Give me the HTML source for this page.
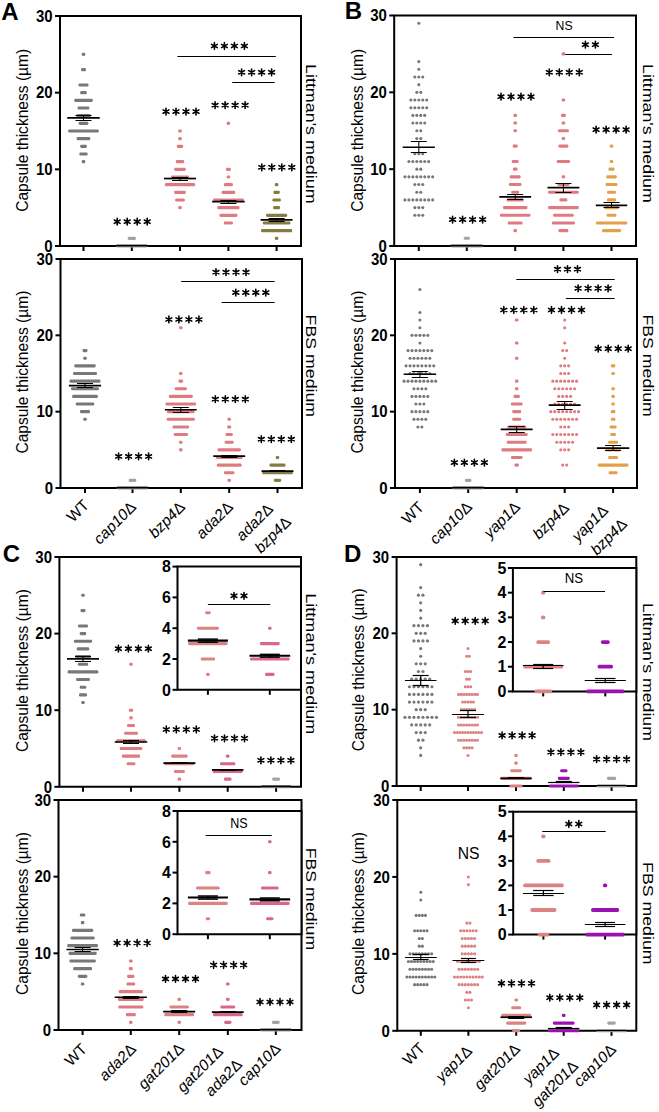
<!DOCTYPE html><html><head><meta charset="utf-8"><style>html,body{margin:0;padding:0;background:#fff;}svg{display:block;}</style></head><body>
<svg width="659" height="1112" viewBox="0 0 659 1112" font-family='"Liberation Sans", sans-serif'>
<rect width="659" height="1112" fill="#fff"/>
<text x="1.2" y="19.9" font-size="24" font-weight="bold" font-style="normal" text-anchor="start" fill="#000" >A</text>
<text x="344.7" y="18.8" font-size="24" font-weight="bold" font-style="normal" text-anchor="start" fill="#000" >B</text>
<text x="2.7" y="561.9" font-size="24" font-weight="bold" font-style="normal" text-anchor="start" fill="#000" >C</text>
<text x="344" y="562.2" font-size="24" font-weight="bold" font-style="normal" text-anchor="start" fill="#000" >D</text>
<path d="M60 246V16H301V246Z" fill="none" stroke="#000" stroke-width="2.0"/>
<line x1="55" y1="246" x2="60" y2="246" stroke="#000" stroke-width="2"/>
<text x="52.6" y="251.76" font-size="16" font-weight="bold" font-style="normal" text-anchor="end" fill="#000" textLength="8.32" lengthAdjust="spacingAndGlyphs">0</text>
<line x1="55" y1="169.33" x2="60" y2="169.33" stroke="#000" stroke-width="2"/>
<text x="52.6" y="175.09" font-size="16" font-weight="bold" font-style="normal" text-anchor="end" fill="#000" textLength="16.64" lengthAdjust="spacingAndGlyphs">10</text>
<line x1="55" y1="92.67" x2="60" y2="92.67" stroke="#000" stroke-width="2"/>
<text x="52.6" y="98.43" font-size="16" font-weight="bold" font-style="normal" text-anchor="end" fill="#000" textLength="16.64" lengthAdjust="spacingAndGlyphs">20</text>
<line x1="55" y1="16" x2="60" y2="16" stroke="#000" stroke-width="2"/>
<text x="52.6" y="21.76" font-size="16" font-weight="bold" font-style="normal" text-anchor="end" fill="#000" textLength="16.64" lengthAdjust="spacingAndGlyphs">30</text>
<line x1="83.5" y1="246" x2="83.5" y2="251" stroke="#000" stroke-width="2"/>
<line x1="131.8" y1="246" x2="131.8" y2="251" stroke="#000" stroke-width="2"/>
<line x1="180" y1="246" x2="180" y2="251" stroke="#000" stroke-width="2"/>
<line x1="228.4" y1="246" x2="228.4" y2="251" stroke="#000" stroke-width="2"/>
<line x1="276.6" y1="246" x2="276.6" y2="251" stroke="#000" stroke-width="2"/>
<text transform="translate(27.5,130.3) rotate(-90)" font-size="15.6" text-anchor="middle" textLength="163" lengthAdjust="spacingAndGlyphs">Capsule thickness (µm)</text>
<text transform="translate(305.5,133.8) rotate(90)" font-size="14.6" text-anchor="middle" textLength="139.6" lengthAdjust="spacingAndGlyphs">Littman's medium</text>
<rect x="81.7" y="52.78" width="3.6" height="3.1" rx="1.3" fill="#787878"/>
<rect x="81" y="68.12" width="5" height="3.1" rx="1.3" fill="#787878"/>
<rect x="78.5" y="83.45" width="10" height="3.1" rx="1.3" fill="#787878"/>
<rect x="80.2" y="91.12" width="6.6" height="3.1" rx="1.3" fill="#787878"/>
<rect x="74.2" y="98.78" width="18.6" height="3.1" rx="1.3" fill="#787878"/>
<rect x="77.6" y="106.45" width="11.8" height="3.1" rx="1.3" fill="#787878"/>
<rect x="76.25" y="114.12" width="14.5" height="3.1" rx="1.3" fill="#787878"/>
<rect x="78.65" y="121.78" width="9.7" height="3.1" rx="1.3" fill="#787878"/>
<rect x="68.2" y="129.45" width="30.6" height="3.1" rx="1.3" fill="#787878"/>
<rect x="76.6" y="137.12" width="13.8" height="3.1" rx="1.3" fill="#787878"/>
<rect x="80.1" y="144.78" width="6.8" height="3.1" rx="1.3" fill="#787878"/>
<rect x="79.35" y="152.45" width="8.3" height="3.1" rx="1.3" fill="#787878"/>
<rect x="81.7" y="160.12" width="3.6" height="3.1" rx="1.3" fill="#787878"/>
<line x1="67.25" y1="117.97" x2="99.75" y2="117.97" stroke="#000" stroke-width="1.7"/>
<line x1="75.5" y1="115.5" x2="91.5" y2="115.5" stroke="#000" stroke-width="1.05"/>
<line x1="75.5" y1="120.5" x2="91.5" y2="120.5" stroke="#000" stroke-width="1.05"/>
<line x1="83.5" y1="115.28" x2="83.5" y2="120.65" stroke="#000" stroke-width="1.05"/>
<rect x="127.65" y="236.78" width="8.3" height="3.1" rx="1.3" fill="#a3a3a3"/>
<rect x="116.3" y="244.45" width="31" height="3.1" rx="1.3" fill="#a3a3a3"/>
<line x1="116.3" y1="245.62" x2="147.3" y2="245.62" stroke="#000" stroke-width="1.7"/>
<rect x="178.2" y="129.45" width="3.6" height="3.1" rx="1.3" fill="#df7b80"/>
<rect x="178.2" y="137.12" width="3.6" height="3.1" rx="1.3" fill="#df7b80"/>
<rect x="176.8" y="144.78" width="6.4" height="3.1" rx="1.3" fill="#df7b80"/>
<rect x="175.75" y="160.12" width="8.5" height="3.1" rx="1.3" fill="#df7b80"/>
<rect x="174.15" y="167.78" width="11.7" height="3.1" rx="1.3" fill="#df7b80"/>
<rect x="171" y="175.45" width="18" height="3.1" rx="1.3" fill="#df7b80"/>
<rect x="164.8" y="183.12" width="30.4" height="3.1" rx="1.3" fill="#df7b80"/>
<rect x="174.15" y="190.78" width="11.7" height="3.1" rx="1.3" fill="#df7b80"/>
<rect x="175.1" y="198.45" width="9.8" height="3.1" rx="1.3" fill="#df7b80"/>
<rect x="178.2" y="206.12" width="3.6" height="3.1" rx="1.3" fill="#df7b80"/>
<line x1="164.05" y1="178.53" x2="195.95" y2="178.53" stroke="#000" stroke-width="1.7"/>
<line x1="172" y1="177.5" x2="188" y2="177.5" stroke="#000" stroke-width="1.05"/>
<line x1="172" y1="180.5" x2="188" y2="180.5" stroke="#000" stroke-width="1.05"/>
<line x1="180" y1="177" x2="180" y2="180.07" stroke="#000" stroke-width="1.05"/>
<rect x="226.6" y="121.78" width="3.6" height="3.1" rx="1.3" fill="#df7b80"/>
<rect x="225.95" y="167.78" width="4.9" height="3.1" rx="1.3" fill="#df7b80"/>
<rect x="226.6" y="175.45" width="3.6" height="3.1" rx="1.3" fill="#df7b80"/>
<rect x="223.85" y="183.12" width="9.1" height="3.1" rx="1.3" fill="#df7b80"/>
<rect x="221.5" y="190.78" width="13.8" height="3.1" rx="1.3" fill="#df7b80"/>
<rect x="213" y="198.45" width="30.8" height="3.1" rx="1.3" fill="#df7b80"/>
<rect x="217.25" y="206.12" width="22.3" height="3.1" rx="1.3" fill="#df7b80"/>
<rect x="219.4" y="213.78" width="18" height="3.1" rx="1.3" fill="#df7b80"/>
<rect x="223.85" y="221.45" width="9.1" height="3.1" rx="1.3" fill="#df7b80"/>
<line x1="212.15" y1="201.53" x2="244.65" y2="201.53" stroke="#000" stroke-width="1.7"/>
<line x1="220.4" y1="200.5" x2="236.4" y2="200.5" stroke="#000" stroke-width="1.05"/>
<line x1="220.4" y1="203.5" x2="236.4" y2="203.5" stroke="#000" stroke-width="1.05"/>
<line x1="228.4" y1="200" x2="228.4" y2="203.07" stroke="#000" stroke-width="1.05"/>
<rect x="274.8" y="183.12" width="3.6" height="3.1" rx="1.3" fill="#857d40"/>
<rect x="273.4" y="190.78" width="6.4" height="3.1" rx="1.3" fill="#857d40"/>
<rect x="272.35" y="198.45" width="8.5" height="3.1" rx="1.3" fill="#857d40"/>
<rect x="273.1" y="206.12" width="7" height="3.1" rx="1.3" fill="#857d40"/>
<rect x="266" y="213.78" width="21.2" height="3.1" rx="1.3" fill="#857d40"/>
<rect x="262.8" y="221.45" width="27.6" height="3.1" rx="1.3" fill="#857d40"/>
<rect x="261" y="229.12" width="31.2" height="3.1" rx="1.3" fill="#857d40"/>
<rect x="274.8" y="236.78" width="3.6" height="3.1" rx="1.3" fill="#857d40"/>
<line x1="260.65" y1="219.93" x2="292.55" y2="219.93" stroke="#000" stroke-width="1.7"/>
<line x1="268.6" y1="218.5" x2="284.6" y2="218.5" stroke="#000" stroke-width="1.05"/>
<line x1="268.6" y1="221.5" x2="284.6" y2="221.5" stroke="#000" stroke-width="1.05"/>
<line x1="276.6" y1="218.78" x2="276.6" y2="221.08" stroke="#000" stroke-width="1.05"/>
<path d="M117.2 218.35L117.2 225.05M114.3 220.02L120.1 223.38M114.3 223.38L120.1 220.02M127.2 218.35L127.2 225.05M124.3 220.02L130.1 223.38M124.3 223.38L130.1 220.02M137.2 218.35L137.2 225.05M134.3 220.02L140.1 223.38M134.3 223.38L140.1 220.02M147.2 218.35L147.2 225.05M144.3 220.02L150.1 223.38M144.3 223.38L150.1 220.02" stroke="#000" stroke-width="1.6" stroke-linecap="round" fill="none"/>
<path d="M166 108.25L166 114.95M163.1 109.92L168.9 113.27M163.1 113.27L168.9 109.92M176 108.25L176 114.95M173.1 109.92L178.9 113.27M173.1 113.27L178.9 109.92M186 108.25L186 114.95M183.1 109.92L188.9 113.27M183.1 113.27L188.9 109.92M196 108.25L196 114.95M193.1 109.92L198.9 113.27M193.1 113.27L198.9 109.92" stroke="#000" stroke-width="1.6" stroke-linecap="round" fill="none"/>
<path d="M215.1 101.85L215.1 108.55M212.2 103.53L218 106.88M212.2 106.88L218 103.53M225.1 101.85L225.1 108.55M222.2 103.53L228 106.88M222.2 106.88L228 103.53M235.1 101.85L235.1 108.55M232.2 103.53L238 106.88M232.2 106.88L238 103.53M245.1 101.85L245.1 108.55M242.2 103.53L248 106.88M242.2 106.88L248 103.53" stroke="#000" stroke-width="1.6" stroke-linecap="round" fill="none"/>
<path d="M261.8 163.95L261.8 170.65M258.9 165.62L264.7 168.98M258.9 168.98L264.7 165.62M271.8 163.95L271.8 170.65M268.9 165.62L274.7 168.98M268.9 168.98L274.7 165.62M281.8 163.95L281.8 170.65M278.9 165.62L284.7 168.98M278.9 168.98L284.7 165.62M291.8 163.95L291.8 170.65M288.9 165.62L294.7 168.98M288.9 168.98L294.7 165.62" stroke="#000" stroke-width="1.6" stroke-linecap="round" fill="none"/>
<path d="M214.4 42.65L214.4 49.35M211.5 44.33L217.3 47.67M211.5 47.67L217.3 44.33M224.4 42.65L224.4 49.35M221.5 44.33L227.3 47.67M221.5 47.67L227.3 44.33M234.4 42.65L234.4 49.35M231.5 44.33L237.3 47.67M231.5 47.67L237.3 44.33M244.4 42.65L244.4 49.35M241.5 44.33L247.3 47.67M241.5 47.67L247.3 44.33" stroke="#000" stroke-width="1.6" stroke-linecap="round" fill="none"/>
<line x1="177.4" y1="56.5" x2="275.8" y2="56.5" stroke="#000" stroke-width="1.2"/>
<path d="M241.6 68.95L241.6 75.65M238.7 70.62L244.5 73.97M238.7 73.97L244.5 70.62M251.6 68.95L251.6 75.65M248.7 70.62L254.5 73.97M248.7 73.97L254.5 70.62M261.6 68.95L261.6 75.65M258.7 70.62L264.5 73.97M258.7 73.97L264.5 70.62M271.6 68.95L271.6 75.65M268.7 70.62L274.5 73.97M268.7 73.97L274.5 70.62" stroke="#000" stroke-width="1.6" stroke-linecap="round" fill="none"/>
<line x1="232.2" y1="82.5" x2="274.7" y2="82.5" stroke="#000" stroke-width="1.2"/>
<path d="M60.5 488V259H302V488Z" fill="none" stroke="#000" stroke-width="2.0"/>
<line x1="55.5" y1="488" x2="60.5" y2="488" stroke="#000" stroke-width="2"/>
<text x="53.1" y="493.76" font-size="16" font-weight="bold" font-style="normal" text-anchor="end" fill="#000" textLength="8.32" lengthAdjust="spacingAndGlyphs">0</text>
<line x1="55.5" y1="411.67" x2="60.5" y2="411.67" stroke="#000" stroke-width="2"/>
<text x="53.1" y="417.43" font-size="16" font-weight="bold" font-style="normal" text-anchor="end" fill="#000" textLength="16.64" lengthAdjust="spacingAndGlyphs">10</text>
<line x1="55.5" y1="335.33" x2="60.5" y2="335.33" stroke="#000" stroke-width="2"/>
<text x="53.1" y="341.09" font-size="16" font-weight="bold" font-style="normal" text-anchor="end" fill="#000" textLength="16.64" lengthAdjust="spacingAndGlyphs">20</text>
<line x1="55.5" y1="259" x2="60.5" y2="259" stroke="#000" stroke-width="2"/>
<text x="53.1" y="264.76" font-size="16" font-weight="bold" font-style="normal" text-anchor="end" fill="#000" textLength="16.64" lengthAdjust="spacingAndGlyphs">30</text>
<line x1="85" y1="488" x2="85" y2="493" stroke="#000" stroke-width="2"/>
<line x1="132.5" y1="488" x2="132.5" y2="493" stroke="#000" stroke-width="2"/>
<line x1="180.8" y1="488" x2="180.8" y2="493" stroke="#000" stroke-width="2"/>
<line x1="229.2" y1="488" x2="229.2" y2="493" stroke="#000" stroke-width="2"/>
<line x1="277.5" y1="488" x2="277.5" y2="493" stroke="#000" stroke-width="2"/>
<text transform="translate(27.5,372.1) rotate(-90)" font-size="15.6" text-anchor="middle" textLength="163" lengthAdjust="spacingAndGlyphs">Capsule thickness (µm)</text>
<text transform="translate(305.5,365.85) rotate(90)" font-size="14.6" text-anchor="middle" textLength="102.5" lengthAdjust="spacingAndGlyphs">FBS medium</text>
<rect x="82.5" y="349.05" width="5" height="3.1" rx="1.3" fill="#787878"/>
<rect x="83.2" y="356.68" width="3.6" height="3.1" rx="1.3" fill="#787878"/>
<rect x="74.25" y="364.32" width="21.5" height="3.1" rx="1.3" fill="#787878"/>
<rect x="73" y="371.95" width="24" height="3.1" rx="1.3" fill="#787878"/>
<rect x="69.5" y="379.58" width="31" height="3.1" rx="1.3" fill="#787878"/>
<rect x="71" y="387.22" width="28" height="3.1" rx="1.3" fill="#787878"/>
<rect x="72.1" y="394.85" width="25.8" height="3.1" rx="1.3" fill="#787878"/>
<rect x="75.7" y="402.48" width="18.6" height="3.1" rx="1.3" fill="#787878"/>
<rect x="80" y="410.12" width="10" height="3.1" rx="1.3" fill="#787878"/>
<rect x="83.2" y="417.75" width="3.6" height="3.1" rx="1.3" fill="#787878"/>
<line x1="68.9" y1="385.71" x2="101.1" y2="385.71" stroke="#000" stroke-width="1.7"/>
<line x1="77" y1="383.5" x2="93" y2="383.5" stroke="#000" stroke-width="1.05"/>
<line x1="77" y1="387.5" x2="93" y2="387.5" stroke="#000" stroke-width="1.05"/>
<line x1="85" y1="383.81" x2="85" y2="387.62" stroke="#000" stroke-width="1.05"/>
<rect x="128.7" y="478.82" width="7.6" height="3.1" rx="1.3" fill="#a3a3a3"/>
<rect x="116.8" y="486.45" width="31.4" height="3.1" rx="1.3" fill="#a3a3a3"/>
<line x1="116.8" y1="487.62" x2="148.2" y2="487.62" stroke="#000" stroke-width="1.7"/>
<rect x="179" y="326.15" width="3.6" height="3.1" rx="1.3" fill="#df7b80"/>
<rect x="179" y="371.95" width="3.6" height="3.1" rx="1.3" fill="#df7b80"/>
<rect x="178.45" y="379.58" width="4.7" height="3.1" rx="1.3" fill="#df7b80"/>
<rect x="174.65" y="387.22" width="12.3" height="3.1" rx="1.3" fill="#df7b80"/>
<rect x="168.8" y="394.85" width="24" height="3.1" rx="1.3" fill="#df7b80"/>
<rect x="165.5" y="402.48" width="30.6" height="3.1" rx="1.3" fill="#df7b80"/>
<rect x="167" y="410.12" width="27.6" height="3.1" rx="1.3" fill="#df7b80"/>
<rect x="166.65" y="417.75" width="28.3" height="3.1" rx="1.3" fill="#df7b80"/>
<rect x="172.5" y="425.38" width="16.6" height="3.1" rx="1.3" fill="#df7b80"/>
<rect x="173.6" y="433.02" width="14.4" height="3.1" rx="1.3" fill="#df7b80"/>
<rect x="179" y="440.65" width="3.6" height="3.1" rx="1.3" fill="#df7b80"/>
<rect x="179" y="448.28" width="3.6" height="3.1" rx="1.3" fill="#df7b80"/>
<line x1="164.85" y1="409.76" x2="196.75" y2="409.76" stroke="#000" stroke-width="1.7"/>
<line x1="172.8" y1="407.5" x2="188.8" y2="407.5" stroke="#000" stroke-width="1.05"/>
<line x1="172.8" y1="412.5" x2="188.8" y2="412.5" stroke="#000" stroke-width="1.05"/>
<line x1="180.8" y1="407.32" x2="180.8" y2="412.2" stroke="#000" stroke-width="1.05"/>
<rect x="227.4" y="417.75" width="3.6" height="3.1" rx="1.3" fill="#df7b80"/>
<rect x="227.2" y="425.38" width="4" height="3.1" rx="1.3" fill="#df7b80"/>
<rect x="225.5" y="433.02" width="7.4" height="3.1" rx="1.3" fill="#df7b80"/>
<rect x="224.65" y="440.65" width="9.1" height="3.1" rx="1.3" fill="#df7b80"/>
<rect x="217.5" y="448.28" width="23.4" height="3.1" rx="1.3" fill="#df7b80"/>
<rect x="215.9" y="455.92" width="26.6" height="3.1" rx="1.3" fill="#df7b80"/>
<rect x="216.75" y="463.55" width="24.9" height="3.1" rx="1.3" fill="#df7b80"/>
<rect x="223.9" y="471.18" width="10.6" height="3.1" rx="1.3" fill="#df7b80"/>
<rect x="227.4" y="478.82" width="3.6" height="3.1" rx="1.3" fill="#df7b80"/>
<line x1="213.25" y1="456.17" x2="245.15" y2="456.17" stroke="#000" stroke-width="1.7"/>
<line x1="221.2" y1="455.5" x2="237.2" y2="455.5" stroke="#000" stroke-width="1.05"/>
<line x1="221.2" y1="457.5" x2="237.2" y2="457.5" stroke="#000" stroke-width="1.05"/>
<line x1="229.2" y1="455.02" x2="229.2" y2="457.31" stroke="#000" stroke-width="1.05"/>
<rect x="275.7" y="455.92" width="3.6" height="3.1" rx="1.3" fill="#857d40"/>
<rect x="269.5" y="463.55" width="16" height="3.1" rx="1.3" fill="#857d40"/>
<rect x="262.1" y="471.18" width="30.8" height="3.1" rx="1.3" fill="#857d40"/>
<rect x="273.8" y="478.82" width="7.4" height="3.1" rx="1.3" fill="#857d40"/>
<line x1="261.55" y1="471.21" x2="293.45" y2="471.21" stroke="#000" stroke-width="1.7"/>
<line x1="269.5" y1="470.5" x2="285.5" y2="470.5" stroke="#000" stroke-width="1.05"/>
<line x1="269.5" y1="471.5" x2="285.5" y2="471.5" stroke="#000" stroke-width="1.05"/>
<line x1="277.5" y1="470.44" x2="277.5" y2="471.97" stroke="#000" stroke-width="1.05"/>
<path d="M118.6 453.05L118.6 459.75M115.7 454.72L121.5 458.07M115.7 458.07L121.5 454.72M128.6 453.05L128.6 459.75M125.7 454.72L131.5 458.07M125.7 458.07L131.5 454.72M138.6 453.05L138.6 459.75M135.7 454.72L141.5 458.07M135.7 458.07L141.5 454.72M148.6 453.05L148.6 459.75M145.7 454.72L151.5 458.07M145.7 458.07L151.5 454.72" stroke="#000" stroke-width="1.6" stroke-linecap="round" fill="none"/>
<path d="M168.9 316.15L168.9 322.85M166 317.82L171.8 321.18M166 321.18L171.8 317.82M178.9 316.15L178.9 322.85M176 317.82L181.8 321.18M176 321.18L181.8 317.82M188.9 316.15L188.9 322.85M186 317.82L191.8 321.18M186 321.18L191.8 317.82M198.9 316.15L198.9 322.85M196 317.82L201.8 321.18M196 321.18L201.8 317.82" stroke="#000" stroke-width="1.6" stroke-linecap="round" fill="none"/>
<path d="M215.3 395.85L215.3 402.55M212.4 397.52L218.2 400.88M212.4 400.88L218.2 397.52M225.3 395.85L225.3 402.55M222.4 397.52L228.2 400.88M222.4 400.88L228.2 397.52M235.3 395.85L235.3 402.55M232.4 397.52L238.2 400.88M232.4 400.88L238.2 397.52M245.3 395.85L245.3 402.55M242.4 397.52L248.2 400.88M242.4 400.88L248.2 397.52" stroke="#000" stroke-width="1.6" stroke-linecap="round" fill="none"/>
<path d="M261.3 435.85L261.3 442.55M258.4 437.52L264.2 440.88M258.4 440.88L264.2 437.52M271.3 435.85L271.3 442.55M268.4 437.52L274.2 440.88M268.4 440.88L274.2 437.52M281.3 435.85L281.3 442.55M278.4 437.52L284.2 440.88M278.4 440.88L284.2 437.52M291.3 435.85L291.3 442.55M288.4 437.52L294.2 440.88M288.4 440.88L294.2 437.52" stroke="#000" stroke-width="1.6" stroke-linecap="round" fill="none"/>
<path d="M216 268.85L216 275.55M213.1 270.52L218.9 273.88M213.1 273.88L218.9 270.52M226 268.85L226 275.55M223.1 270.52L228.9 273.88M223.1 273.88L228.9 270.52M236 268.85L236 275.55M233.1 270.52L238.9 273.88M233.1 273.88L238.9 270.52M246 268.85L246 275.55M243.1 270.52L248.9 273.88M243.1 273.88L248.9 270.52" stroke="#000" stroke-width="1.6" stroke-linecap="round" fill="none"/>
<line x1="181.2" y1="281.5" x2="274.7" y2="281.5" stroke="#000" stroke-width="1.2"/>
<path d="M235.8 289.25L235.8 295.95M232.9 290.93L238.7 294.28M232.9 294.28L238.7 290.93M245.8 289.25L245.8 295.95M242.9 290.93L248.7 294.28M242.9 294.28L248.7 290.93M255.8 289.25L255.8 295.95M252.9 290.93L258.7 294.28M252.9 294.28L258.7 290.93M265.8 289.25L265.8 295.95M262.9 290.93L268.7 294.28M262.9 294.28L268.7 290.93" stroke="#000" stroke-width="1.6" stroke-linecap="round" fill="none"/>
<line x1="221.6" y1="302.5" x2="274.7" y2="302.5" stroke="#000" stroke-width="1.2"/>
<text transform="translate(90,506) rotate(-45)" font-size="15.5" text-anchor="end">WT</text>
<text transform="translate(137,508) rotate(-45)" font-size="15.5" text-anchor="end"><tspan font-style="italic">cap10</tspan>Δ</text>
<text transform="translate(186,508) rotate(-45)" font-size="15.5" text-anchor="end"><tspan font-style="italic">bzp4</tspan>Δ</text>
<text transform="translate(234,508) rotate(-45)" font-size="15.5" text-anchor="end"><tspan font-style="italic">ada2</tspan>Δ</text>
<text transform="translate(274,510) rotate(-45)" font-size="15.5" text-anchor="end"><tspan font-style="italic">ada2</tspan>Δ</text>
<text transform="translate(292,523) rotate(-45)" font-size="15.5" text-anchor="end"><tspan font-style="italic">bzp4</tspan>Δ</text>
<path d="M394.2 246V15.5H636V246Z" fill="none" stroke="#000" stroke-width="2.0"/>
<line x1="389.2" y1="246" x2="394.2" y2="246" stroke="#000" stroke-width="2"/>
<text x="386.8" y="251.76" font-size="16" font-weight="bold" font-style="normal" text-anchor="end" fill="#000" textLength="8.32" lengthAdjust="spacingAndGlyphs">0</text>
<line x1="389.2" y1="169.17" x2="394.2" y2="169.17" stroke="#000" stroke-width="2"/>
<text x="386.8" y="174.93" font-size="16" font-weight="bold" font-style="normal" text-anchor="end" fill="#000" textLength="16.64" lengthAdjust="spacingAndGlyphs">10</text>
<line x1="389.2" y1="92.33" x2="394.2" y2="92.33" stroke="#000" stroke-width="2"/>
<text x="386.8" y="98.09" font-size="16" font-weight="bold" font-style="normal" text-anchor="end" fill="#000" textLength="16.64" lengthAdjust="spacingAndGlyphs">20</text>
<line x1="389.2" y1="15.5" x2="394.2" y2="15.5" stroke="#000" stroke-width="2"/>
<text x="386.8" y="21.26" font-size="16" font-weight="bold" font-style="normal" text-anchor="end" fill="#000" textLength="16.64" lengthAdjust="spacingAndGlyphs">30</text>
<line x1="418.8" y1="246" x2="418.8" y2="251" stroke="#000" stroke-width="2"/>
<line x1="466.8" y1="246" x2="466.8" y2="251" stroke="#000" stroke-width="2"/>
<line x1="515.2" y1="246" x2="515.2" y2="251" stroke="#000" stroke-width="2"/>
<line x1="563.4" y1="246" x2="563.4" y2="251" stroke="#000" stroke-width="2"/>
<line x1="611.5" y1="246" x2="611.5" y2="251" stroke="#000" stroke-width="2"/>
<text transform="translate(362.5,130.3) rotate(-90)" font-size="15.6" text-anchor="middle" textLength="163" lengthAdjust="spacingAndGlyphs">Capsule thickness (µm)</text>
<text transform="translate(642.8,133.4) rotate(90)" font-size="14.6" text-anchor="middle" textLength="138.8" lengthAdjust="spacingAndGlyphs">Littman's medium</text>
<circle cx="418.8" cy="23.18" r="1.55" fill="#787878"/>
<circle cx="418.8" cy="61.6" r="1.55" fill="#787878"/>
<circle cx="418.8" cy="69.28" r="1.55" fill="#787878"/>
<circle cx="414.84" cy="76.97" r="1.55" fill="#787878"/>
<circle cx="418.8" cy="76.97" r="1.55" fill="#787878"/>
<circle cx="422.76" cy="76.97" r="1.55" fill="#787878"/>
<circle cx="418.8" cy="84.65" r="1.55" fill="#787878"/>
<circle cx="416.82" cy="92.33" r="1.55" fill="#787878"/>
<circle cx="420.78" cy="92.33" r="1.55" fill="#787878"/>
<circle cx="410.88" cy="100.02" r="1.55" fill="#787878"/>
<circle cx="414.84" cy="100.02" r="1.55" fill="#787878"/>
<circle cx="418.8" cy="100.02" r="1.55" fill="#787878"/>
<circle cx="422.76" cy="100.02" r="1.55" fill="#787878"/>
<circle cx="426.72" cy="100.02" r="1.55" fill="#787878"/>
<circle cx="410.88" cy="107.7" r="1.55" fill="#787878"/>
<circle cx="414.84" cy="107.7" r="1.55" fill="#787878"/>
<circle cx="418.8" cy="107.7" r="1.55" fill="#787878"/>
<circle cx="422.76" cy="107.7" r="1.55" fill="#787878"/>
<circle cx="426.72" cy="107.7" r="1.55" fill="#787878"/>
<circle cx="412.86" cy="115.38" r="1.55" fill="#787878"/>
<circle cx="416.82" cy="115.38" r="1.55" fill="#787878"/>
<circle cx="420.78" cy="115.38" r="1.55" fill="#787878"/>
<circle cx="424.74" cy="115.38" r="1.55" fill="#787878"/>
<circle cx="412.86" cy="123.07" r="1.55" fill="#787878"/>
<circle cx="416.82" cy="123.07" r="1.55" fill="#787878"/>
<circle cx="420.78" cy="123.07" r="1.55" fill="#787878"/>
<circle cx="424.74" cy="123.07" r="1.55" fill="#787878"/>
<circle cx="416.82" cy="130.75" r="1.55" fill="#787878"/>
<circle cx="420.78" cy="130.75" r="1.55" fill="#787878"/>
<circle cx="416.82" cy="138.43" r="1.55" fill="#787878"/>
<circle cx="420.78" cy="138.43" r="1.55" fill="#787878"/>
<circle cx="414.84" cy="153.8" r="1.55" fill="#787878"/>
<circle cx="418.8" cy="153.8" r="1.55" fill="#787878"/>
<circle cx="422.76" cy="153.8" r="1.55" fill="#787878"/>
<circle cx="408.9" cy="161.48" r="1.55" fill="#787878"/>
<circle cx="412.86" cy="161.48" r="1.55" fill="#787878"/>
<circle cx="416.82" cy="161.48" r="1.55" fill="#787878"/>
<circle cx="420.78" cy="161.48" r="1.55" fill="#787878"/>
<circle cx="424.74" cy="161.48" r="1.55" fill="#787878"/>
<circle cx="428.7" cy="161.48" r="1.55" fill="#787878"/>
<circle cx="416.82" cy="169.17" r="1.55" fill="#787878"/>
<circle cx="420.78" cy="169.17" r="1.55" fill="#787878"/>
<circle cx="404.94" cy="176.85" r="1.55" fill="#787878"/>
<circle cx="408.9" cy="176.85" r="1.55" fill="#787878"/>
<circle cx="412.86" cy="176.85" r="1.55" fill="#787878"/>
<circle cx="416.82" cy="176.85" r="1.55" fill="#787878"/>
<circle cx="420.78" cy="176.85" r="1.55" fill="#787878"/>
<circle cx="424.74" cy="176.85" r="1.55" fill="#787878"/>
<circle cx="428.7" cy="176.85" r="1.55" fill="#787878"/>
<circle cx="432.66" cy="176.85" r="1.55" fill="#787878"/>
<circle cx="414.84" cy="184.53" r="1.55" fill="#787878"/>
<circle cx="418.8" cy="184.53" r="1.55" fill="#787878"/>
<circle cx="422.76" cy="184.53" r="1.55" fill="#787878"/>
<circle cx="416.82" cy="192.22" r="1.55" fill="#787878"/>
<circle cx="420.78" cy="192.22" r="1.55" fill="#787878"/>
<circle cx="404.94" cy="199.9" r="1.55" fill="#787878"/>
<circle cx="408.9" cy="199.9" r="1.55" fill="#787878"/>
<circle cx="412.86" cy="199.9" r="1.55" fill="#787878"/>
<circle cx="416.82" cy="199.9" r="1.55" fill="#787878"/>
<circle cx="420.78" cy="199.9" r="1.55" fill="#787878"/>
<circle cx="424.74" cy="199.9" r="1.55" fill="#787878"/>
<circle cx="428.7" cy="199.9" r="1.55" fill="#787878"/>
<circle cx="432.66" cy="199.9" r="1.55" fill="#787878"/>
<circle cx="414.84" cy="207.58" r="1.55" fill="#787878"/>
<circle cx="418.8" cy="207.58" r="1.55" fill="#787878"/>
<circle cx="422.76" cy="207.58" r="1.55" fill="#787878"/>
<circle cx="414.84" cy="215.27" r="1.55" fill="#787878"/>
<circle cx="418.8" cy="215.27" r="1.55" fill="#787878"/>
<circle cx="422.76" cy="215.27" r="1.55" fill="#787878"/>
<line x1="402.7" y1="147.27" x2="434.9" y2="147.27" stroke="#000" stroke-width="1.7"/>
<line x1="410.8" y1="141.5" x2="426.8" y2="141.5" stroke="#000" stroke-width="1.05"/>
<line x1="410.8" y1="152.5" x2="426.8" y2="152.5" stroke="#000" stroke-width="1.05"/>
<line x1="418.8" y1="141.89" x2="418.8" y2="152.65" stroke="#000" stroke-width="1.05"/>
<rect x="463.7" y="236.77" width="6.2" height="3.1" rx="1.3" fill="#a3a3a3"/>
<rect x="450.8" y="244.45" width="32" height="3.1" rx="1.3" fill="#a3a3a3"/>
<line x1="450.8" y1="245.62" x2="482.8" y2="245.62" stroke="#000" stroke-width="1.7"/>
<rect x="513.4" y="113.83" width="3.6" height="3.1" rx="1.3" fill="#df7b80"/>
<rect x="513.4" y="121.52" width="3.6" height="3.1" rx="1.3" fill="#df7b80"/>
<rect x="513.4" y="129.2" width="3.6" height="3.1" rx="1.3" fill="#df7b80"/>
<rect x="512.7" y="144.57" width="5" height="3.1" rx="1.3" fill="#df7b80"/>
<rect x="511.7" y="159.93" width="7" height="3.1" rx="1.3" fill="#df7b80"/>
<rect x="512.85" y="167.62" width="4.7" height="3.1" rx="1.3" fill="#df7b80"/>
<rect x="509.7" y="175.3" width="11" height="3.1" rx="1.3" fill="#df7b80"/>
<rect x="508.85" y="182.98" width="12.7" height="3.1" rx="1.3" fill="#df7b80"/>
<rect x="511.2" y="190.67" width="8" height="3.1" rx="1.3" fill="#df7b80"/>
<rect x="506.7" y="198.35" width="17" height="3.1" rx="1.3" fill="#df7b80"/>
<rect x="502.9" y="206.03" width="24.6" height="3.1" rx="1.3" fill="#df7b80"/>
<rect x="499.9" y="213.72" width="30.6" height="3.1" rx="1.3" fill="#df7b80"/>
<rect x="507.75" y="221.4" width="14.9" height="3.1" rx="1.3" fill="#df7b80"/>
<rect x="513.4" y="229.08" width="3.6" height="3.1" rx="1.3" fill="#df7b80"/>
<line x1="499.25" y1="196.83" x2="531.15" y2="196.83" stroke="#000" stroke-width="1.7"/>
<line x1="507.2" y1="194.5" x2="523.2" y2="194.5" stroke="#000" stroke-width="1.05"/>
<line x1="507.2" y1="199.5" x2="523.2" y2="199.5" stroke="#000" stroke-width="1.05"/>
<line x1="515.2" y1="194.14" x2="515.2" y2="199.52" stroke="#000" stroke-width="1.05"/>
<rect x="561.6" y="52.37" width="3.6" height="3.1" rx="1.3" fill="#df7b80"/>
<rect x="561.6" y="98.47" width="3.6" height="3.1" rx="1.3" fill="#df7b80"/>
<rect x="560.9" y="113.83" width="5" height="3.1" rx="1.3" fill="#df7b80"/>
<rect x="561.6" y="121.52" width="3.6" height="3.1" rx="1.3" fill="#df7b80"/>
<rect x="557.9" y="129.2" width="11" height="3.1" rx="1.3" fill="#df7b80"/>
<rect x="561.6" y="136.88" width="3.6" height="3.1" rx="1.3" fill="#df7b80"/>
<rect x="558.4" y="144.57" width="10" height="3.1" rx="1.3" fill="#df7b80"/>
<rect x="556.7" y="159.93" width="13.4" height="3.1" rx="1.3" fill="#df7b80"/>
<rect x="561.6" y="175.3" width="3.6" height="3.1" rx="1.3" fill="#df7b80"/>
<rect x="557.4" y="182.98" width="12" height="3.1" rx="1.3" fill="#df7b80"/>
<rect x="548" y="190.67" width="30.8" height="3.1" rx="1.3" fill="#df7b80"/>
<rect x="559.4" y="198.35" width="8" height="3.1" rx="1.3" fill="#df7b80"/>
<rect x="548" y="206.03" width="30.8" height="3.1" rx="1.3" fill="#df7b80"/>
<rect x="553.1" y="213.72" width="20.6" height="3.1" rx="1.3" fill="#df7b80"/>
<rect x="551.9" y="221.4" width="23" height="3.1" rx="1.3" fill="#df7b80"/>
<rect x="558.4" y="229.08" width="10" height="3.1" rx="1.3" fill="#df7b80"/>
<line x1="547.45" y1="187.61" x2="579.35" y2="187.61" stroke="#000" stroke-width="1.7"/>
<line x1="555.4" y1="183.5" x2="571.4" y2="183.5" stroke="#000" stroke-width="1.05"/>
<line x1="555.4" y1="192.5" x2="571.4" y2="192.5" stroke="#000" stroke-width="1.05"/>
<line x1="563.4" y1="183.76" x2="563.4" y2="192.22" stroke="#000" stroke-width="1.05"/>
<rect x="609.7" y="144.57" width="3.6" height="3.1" rx="1.3" fill="#e3a048"/>
<rect x="609.7" y="159.93" width="3.6" height="3.1" rx="1.3" fill="#e3a048"/>
<rect x="608.5" y="167.62" width="6" height="3.1" rx="1.3" fill="#e3a048"/>
<rect x="606.2" y="175.3" width="10.6" height="3.1" rx="1.3" fill="#e3a048"/>
<rect x="605.5" y="182.98" width="12" height="3.1" rx="1.3" fill="#e3a048"/>
<rect x="607" y="190.67" width="9" height="3.1" rx="1.3" fill="#e3a048"/>
<rect x="607" y="198.35" width="9" height="3.1" rx="1.3" fill="#e3a048"/>
<rect x="604" y="206.03" width="15" height="3.1" rx="1.3" fill="#e3a048"/>
<rect x="606.6" y="213.72" width="9.8" height="3.1" rx="1.3" fill="#e3a048"/>
<rect x="595.8" y="221.4" width="31.4" height="3.1" rx="1.3" fill="#e3a048"/>
<rect x="602" y="229.08" width="19" height="3.1" rx="1.3" fill="#e3a048"/>
<line x1="595.8" y1="205.28" x2="627.2" y2="205.28" stroke="#000" stroke-width="1.7"/>
<line x1="603.5" y1="202.5" x2="619.5" y2="202.5" stroke="#000" stroke-width="1.05"/>
<line x1="603.5" y1="207.5" x2="619.5" y2="207.5" stroke="#000" stroke-width="1.05"/>
<line x1="611.5" y1="202.97" x2="611.5" y2="207.58" stroke="#000" stroke-width="1.05"/>
<path d="M452.6 216.25L452.6 222.95M449.7 217.92L455.5 221.28M449.7 221.28L455.5 217.92M462.6 216.25L462.6 222.95M459.7 217.92L465.5 221.28M459.7 221.28L465.5 217.92M472.6 216.25L472.6 222.95M469.7 217.92L475.5 221.28M469.7 221.28L475.5 217.92M482.6 216.25L482.6 222.95M479.7 217.92L485.5 221.28M479.7 221.28L485.5 217.92" stroke="#000" stroke-width="1.6" stroke-linecap="round" fill="none"/>
<path d="M501 93.35L501 100.05M498.1 95.03L503.9 98.38M498.1 98.38L503.9 95.03M511 93.35L511 100.05M508.1 95.03L513.9 98.38M508.1 98.38L513.9 95.03M521 93.35L521 100.05M518.1 95.03L523.9 98.38M518.1 98.38L523.9 95.03M531 93.35L531 100.05M528.1 95.03L533.9 98.38M528.1 98.38L533.9 95.03" stroke="#000" stroke-width="1.6" stroke-linecap="round" fill="none"/>
<path d="M549.3 68.95L549.3 75.65M546.4 70.62L552.2 73.97M546.4 73.97L552.2 70.62M559.3 68.95L559.3 75.65M556.4 70.62L562.2 73.97M556.4 73.97L562.2 70.62M569.3 68.95L569.3 75.65M566.4 70.62L572.2 73.97M566.4 73.97L572.2 70.62M579.3 68.95L579.3 75.65M576.4 70.62L582.2 73.97M576.4 73.97L582.2 70.62" stroke="#000" stroke-width="1.6" stroke-linecap="round" fill="none"/>
<path d="M596.1 126.35L596.1 133.05M593.2 128.02L599 131.38M593.2 131.38L599 128.02M606.1 126.35L606.1 133.05M603.2 128.02L609 131.38M603.2 131.38L609 128.02M616.1 126.35L616.1 133.05M613.2 128.02L619 131.38M613.2 131.38L619 128.02M626.1 126.35L626.1 133.05M623.2 128.02L629 131.38M623.2 131.38L629 128.02" stroke="#000" stroke-width="1.6" stroke-linecap="round" fill="none"/>
<text x="564.1" y="29.7" font-size="13.2" font-weight="normal" font-style="normal" text-anchor="middle" fill="#000" textLength="17" lengthAdjust="spacingAndGlyphs">NS</text>
<line x1="513.5" y1="37.5" x2="614" y2="37.5" stroke="#000" stroke-width="1.2"/>
<path d="M585.4 41.35L585.4 48.05M582.5 43.03L588.3 46.38M582.5 46.38L588.3 43.03M595.4 41.35L595.4 48.05M592.5 43.03L598.3 46.38M592.5 46.38L598.3 43.03" stroke="#000" stroke-width="1.6" stroke-linecap="round" fill="none"/>
<line x1="565.2" y1="54.5" x2="611.9" y2="54.5" stroke="#000" stroke-width="1.2"/>
<path d="M395 488V259H637V488Z" fill="none" stroke="#000" stroke-width="2.0"/>
<line x1="390" y1="488" x2="395" y2="488" stroke="#000" stroke-width="2"/>
<text x="387.6" y="493.76" font-size="16" font-weight="bold" font-style="normal" text-anchor="end" fill="#000" textLength="8.32" lengthAdjust="spacingAndGlyphs">0</text>
<line x1="390" y1="411.67" x2="395" y2="411.67" stroke="#000" stroke-width="2"/>
<text x="387.6" y="417.43" font-size="16" font-weight="bold" font-style="normal" text-anchor="end" fill="#000" textLength="16.64" lengthAdjust="spacingAndGlyphs">10</text>
<line x1="390" y1="335.33" x2="395" y2="335.33" stroke="#000" stroke-width="2"/>
<text x="387.6" y="341.09" font-size="16" font-weight="bold" font-style="normal" text-anchor="end" fill="#000" textLength="16.64" lengthAdjust="spacingAndGlyphs">20</text>
<line x1="390" y1="259" x2="395" y2="259" stroke="#000" stroke-width="2"/>
<text x="387.6" y="264.76" font-size="16" font-weight="bold" font-style="normal" text-anchor="end" fill="#000" textLength="16.64" lengthAdjust="spacingAndGlyphs">30</text>
<line x1="419.9" y1="488" x2="419.9" y2="493" stroke="#000" stroke-width="2"/>
<line x1="468.2" y1="488" x2="468.2" y2="493" stroke="#000" stroke-width="2"/>
<line x1="516.7" y1="488" x2="516.7" y2="493" stroke="#000" stroke-width="2"/>
<line x1="564.7" y1="488" x2="564.7" y2="493" stroke="#000" stroke-width="2"/>
<line x1="613.1" y1="488" x2="613.1" y2="493" stroke="#000" stroke-width="2"/>
<text transform="translate(362.5,372.1) rotate(-90)" font-size="15.6" text-anchor="middle" textLength="163" lengthAdjust="spacingAndGlyphs">Capsule thickness (µm)</text>
<text transform="translate(642.8,365.65) rotate(90)" font-size="14.6" text-anchor="middle" textLength="102.5" lengthAdjust="spacingAndGlyphs">FBS medium</text>
<circle cx="419.9" cy="289.53" r="1.55" fill="#787878"/>
<circle cx="419.9" cy="312.43" r="1.55" fill="#787878"/>
<circle cx="419.9" cy="320.07" r="1.55" fill="#787878"/>
<circle cx="419.9" cy="327.7" r="1.55" fill="#787878"/>
<circle cx="411.98" cy="335.33" r="1.55" fill="#787878"/>
<circle cx="415.94" cy="335.33" r="1.55" fill="#787878"/>
<circle cx="419.9" cy="335.33" r="1.55" fill="#787878"/>
<circle cx="423.86" cy="335.33" r="1.55" fill="#787878"/>
<circle cx="427.82" cy="335.33" r="1.55" fill="#787878"/>
<circle cx="419.9" cy="342.97" r="1.55" fill="#787878"/>
<circle cx="408.02" cy="350.6" r="1.55" fill="#787878"/>
<circle cx="411.98" cy="350.6" r="1.55" fill="#787878"/>
<circle cx="415.94" cy="350.6" r="1.55" fill="#787878"/>
<circle cx="419.9" cy="350.6" r="1.55" fill="#787878"/>
<circle cx="423.86" cy="350.6" r="1.55" fill="#787878"/>
<circle cx="427.82" cy="350.6" r="1.55" fill="#787878"/>
<circle cx="431.78" cy="350.6" r="1.55" fill="#787878"/>
<circle cx="410" cy="358.23" r="1.55" fill="#787878"/>
<circle cx="413.96" cy="358.23" r="1.55" fill="#787878"/>
<circle cx="417.92" cy="358.23" r="1.55" fill="#787878"/>
<circle cx="421.88" cy="358.23" r="1.55" fill="#787878"/>
<circle cx="425.84" cy="358.23" r="1.55" fill="#787878"/>
<circle cx="429.8" cy="358.23" r="1.55" fill="#787878"/>
<circle cx="406.04" cy="365.87" r="1.55" fill="#787878"/>
<circle cx="410" cy="365.87" r="1.55" fill="#787878"/>
<circle cx="413.96" cy="365.87" r="1.55" fill="#787878"/>
<circle cx="417.92" cy="365.87" r="1.55" fill="#787878"/>
<circle cx="421.88" cy="365.87" r="1.55" fill="#787878"/>
<circle cx="425.84" cy="365.87" r="1.55" fill="#787878"/>
<circle cx="429.8" cy="365.87" r="1.55" fill="#787878"/>
<circle cx="433.76" cy="365.87" r="1.55" fill="#787878"/>
<circle cx="410" cy="373.5" r="1.55" fill="#787878"/>
<circle cx="413.96" cy="373.5" r="1.55" fill="#787878"/>
<circle cx="417.92" cy="373.5" r="1.55" fill="#787878"/>
<circle cx="421.88" cy="373.5" r="1.55" fill="#787878"/>
<circle cx="425.84" cy="373.5" r="1.55" fill="#787878"/>
<circle cx="429.8" cy="373.5" r="1.55" fill="#787878"/>
<circle cx="404.06" cy="381.13" r="1.55" fill="#787878"/>
<circle cx="408.02" cy="381.13" r="1.55" fill="#787878"/>
<circle cx="411.98" cy="381.13" r="1.55" fill="#787878"/>
<circle cx="415.94" cy="381.13" r="1.55" fill="#787878"/>
<circle cx="419.9" cy="381.13" r="1.55" fill="#787878"/>
<circle cx="423.86" cy="381.13" r="1.55" fill="#787878"/>
<circle cx="427.82" cy="381.13" r="1.55" fill="#787878"/>
<circle cx="431.78" cy="381.13" r="1.55" fill="#787878"/>
<circle cx="435.74" cy="381.13" r="1.55" fill="#787878"/>
<circle cx="413.96" cy="388.77" r="1.55" fill="#787878"/>
<circle cx="417.92" cy="388.77" r="1.55" fill="#787878"/>
<circle cx="421.88" cy="388.77" r="1.55" fill="#787878"/>
<circle cx="425.84" cy="388.77" r="1.55" fill="#787878"/>
<circle cx="411.98" cy="396.4" r="1.55" fill="#787878"/>
<circle cx="415.94" cy="396.4" r="1.55" fill="#787878"/>
<circle cx="419.9" cy="396.4" r="1.55" fill="#787878"/>
<circle cx="423.86" cy="396.4" r="1.55" fill="#787878"/>
<circle cx="427.82" cy="396.4" r="1.55" fill="#787878"/>
<circle cx="415.94" cy="404.03" r="1.55" fill="#787878"/>
<circle cx="419.9" cy="404.03" r="1.55" fill="#787878"/>
<circle cx="423.86" cy="404.03" r="1.55" fill="#787878"/>
<circle cx="411.98" cy="411.67" r="1.55" fill="#787878"/>
<circle cx="415.94" cy="411.67" r="1.55" fill="#787878"/>
<circle cx="419.9" cy="411.67" r="1.55" fill="#787878"/>
<circle cx="423.86" cy="411.67" r="1.55" fill="#787878"/>
<circle cx="427.82" cy="411.67" r="1.55" fill="#787878"/>
<circle cx="413.96" cy="419.3" r="1.55" fill="#787878"/>
<circle cx="417.92" cy="419.3" r="1.55" fill="#787878"/>
<circle cx="421.88" cy="419.3" r="1.55" fill="#787878"/>
<circle cx="425.84" cy="419.3" r="1.55" fill="#787878"/>
<circle cx="417.92" cy="426.93" r="1.55" fill="#787878"/>
<circle cx="421.88" cy="426.93" r="1.55" fill="#787878"/>
<line x1="403.65" y1="374.26" x2="436.15" y2="374.26" stroke="#000" stroke-width="1.7"/>
<line x1="411.9" y1="371.5" x2="427.9" y2="371.5" stroke="#000" stroke-width="1.05"/>
<line x1="411.9" y1="377.5" x2="427.9" y2="377.5" stroke="#000" stroke-width="1.05"/>
<line x1="419.9" y1="371.21" x2="419.9" y2="377.7" stroke="#000" stroke-width="1.05"/>
<rect x="464.95" y="478.82" width="6.5" height="3.1" rx="1.3" fill="#a3a3a3"/>
<rect x="452.3" y="486.45" width="31.8" height="3.1" rx="1.3" fill="#a3a3a3"/>
<line x1="452.3" y1="487.62" x2="484.1" y2="487.62" stroke="#000" stroke-width="1.7"/>
<rect x="514.9" y="318.52" width="3.6" height="3.1" rx="1.3" fill="#df7b80"/>
<rect x="514.9" y="341.42" width="3.6" height="3.1" rx="1.3" fill="#df7b80"/>
<rect x="514.9" y="356.68" width="3.6" height="3.1" rx="1.3" fill="#df7b80"/>
<rect x="514.9" y="379.58" width="3.6" height="3.1" rx="1.3" fill="#df7b80"/>
<rect x="514.9" y="387.22" width="3.6" height="3.1" rx="1.3" fill="#df7b80"/>
<rect x="513.5" y="394.85" width="6.4" height="3.1" rx="1.3" fill="#df7b80"/>
<rect x="510.85" y="402.48" width="11.7" height="3.1" rx="1.3" fill="#df7b80"/>
<rect x="512.2" y="410.12" width="9" height="3.1" rx="1.3" fill="#df7b80"/>
<rect x="512.2" y="417.75" width="9" height="3.1" rx="1.3" fill="#df7b80"/>
<rect x="507.2" y="425.38" width="19" height="3.1" rx="1.3" fill="#df7b80"/>
<rect x="505.7" y="433.02" width="22" height="3.1" rx="1.3" fill="#df7b80"/>
<rect x="506.7" y="440.65" width="20" height="3.1" rx="1.3" fill="#df7b80"/>
<rect x="501.3" y="448.28" width="30.8" height="3.1" rx="1.3" fill="#df7b80"/>
<rect x="510.85" y="455.92" width="11.7" height="3.1" rx="1.3" fill="#df7b80"/>
<rect x="514.45" y="463.55" width="4.5" height="3.1" rx="1.3" fill="#df7b80"/>
<line x1="500.75" y1="429.38" x2="532.65" y2="429.38" stroke="#000" stroke-width="1.7"/>
<line x1="508.7" y1="426.5" x2="524.7" y2="426.5" stroke="#000" stroke-width="1.05"/>
<line x1="508.7" y1="432.5" x2="524.7" y2="432.5" stroke="#000" stroke-width="1.05"/>
<line x1="516.7" y1="426.32" x2="516.7" y2="432.43" stroke="#000" stroke-width="1.05"/>
<circle cx="564.7" cy="320.07" r="1.55" fill="#df7b80"/>
<circle cx="564.7" cy="327.7" r="1.55" fill="#df7b80"/>
<circle cx="564.7" cy="342.97" r="1.55" fill="#df7b80"/>
<circle cx="562.72" cy="350.6" r="1.55" fill="#df7b80"/>
<circle cx="566.68" cy="350.6" r="1.55" fill="#df7b80"/>
<circle cx="564.7" cy="358.23" r="1.55" fill="#df7b80"/>
<circle cx="560.74" cy="365.87" r="1.55" fill="#df7b80"/>
<circle cx="564.7" cy="365.87" r="1.55" fill="#df7b80"/>
<circle cx="568.66" cy="365.87" r="1.55" fill="#df7b80"/>
<circle cx="560.74" cy="373.5" r="1.55" fill="#df7b80"/>
<circle cx="564.7" cy="373.5" r="1.55" fill="#df7b80"/>
<circle cx="568.66" cy="373.5" r="1.55" fill="#df7b80"/>
<circle cx="552.82" cy="381.13" r="1.55" fill="#df7b80"/>
<circle cx="556.78" cy="381.13" r="1.55" fill="#df7b80"/>
<circle cx="560.74" cy="381.13" r="1.55" fill="#df7b80"/>
<circle cx="564.7" cy="381.13" r="1.55" fill="#df7b80"/>
<circle cx="568.66" cy="381.13" r="1.55" fill="#df7b80"/>
<circle cx="572.62" cy="381.13" r="1.55" fill="#df7b80"/>
<circle cx="576.58" cy="381.13" r="1.55" fill="#df7b80"/>
<circle cx="554.8" cy="388.77" r="1.55" fill="#df7b80"/>
<circle cx="558.76" cy="388.77" r="1.55" fill="#df7b80"/>
<circle cx="562.72" cy="388.77" r="1.55" fill="#df7b80"/>
<circle cx="566.68" cy="388.77" r="1.55" fill="#df7b80"/>
<circle cx="570.64" cy="388.77" r="1.55" fill="#df7b80"/>
<circle cx="574.6" cy="388.77" r="1.55" fill="#df7b80"/>
<circle cx="558.76" cy="396.4" r="1.55" fill="#df7b80"/>
<circle cx="562.72" cy="396.4" r="1.55" fill="#df7b80"/>
<circle cx="566.68" cy="396.4" r="1.55" fill="#df7b80"/>
<circle cx="570.64" cy="396.4" r="1.55" fill="#df7b80"/>
<circle cx="554.8" cy="404.03" r="1.55" fill="#df7b80"/>
<circle cx="558.76" cy="404.03" r="1.55" fill="#df7b80"/>
<circle cx="562.72" cy="404.03" r="1.55" fill="#df7b80"/>
<circle cx="566.68" cy="404.03" r="1.55" fill="#df7b80"/>
<circle cx="570.64" cy="404.03" r="1.55" fill="#df7b80"/>
<circle cx="574.6" cy="404.03" r="1.55" fill="#df7b80"/>
<circle cx="550.84" cy="411.67" r="1.55" fill="#df7b80"/>
<circle cx="554.8" cy="411.67" r="1.55" fill="#df7b80"/>
<circle cx="558.76" cy="411.67" r="1.55" fill="#df7b80"/>
<circle cx="562.72" cy="411.67" r="1.55" fill="#df7b80"/>
<circle cx="566.68" cy="411.67" r="1.55" fill="#df7b80"/>
<circle cx="570.64" cy="411.67" r="1.55" fill="#df7b80"/>
<circle cx="574.6" cy="411.67" r="1.55" fill="#df7b80"/>
<circle cx="578.56" cy="411.67" r="1.55" fill="#df7b80"/>
<circle cx="552.82" cy="419.3" r="1.55" fill="#df7b80"/>
<circle cx="556.78" cy="419.3" r="1.55" fill="#df7b80"/>
<circle cx="560.74" cy="419.3" r="1.55" fill="#df7b80"/>
<circle cx="564.7" cy="419.3" r="1.55" fill="#df7b80"/>
<circle cx="568.66" cy="419.3" r="1.55" fill="#df7b80"/>
<circle cx="572.62" cy="419.3" r="1.55" fill="#df7b80"/>
<circle cx="576.58" cy="419.3" r="1.55" fill="#df7b80"/>
<circle cx="560.74" cy="426.93" r="1.55" fill="#df7b80"/>
<circle cx="564.7" cy="426.93" r="1.55" fill="#df7b80"/>
<circle cx="568.66" cy="426.93" r="1.55" fill="#df7b80"/>
<circle cx="552.82" cy="434.57" r="1.55" fill="#df7b80"/>
<circle cx="556.78" cy="434.57" r="1.55" fill="#df7b80"/>
<circle cx="560.74" cy="434.57" r="1.55" fill="#df7b80"/>
<circle cx="564.7" cy="434.57" r="1.55" fill="#df7b80"/>
<circle cx="568.66" cy="434.57" r="1.55" fill="#df7b80"/>
<circle cx="572.62" cy="434.57" r="1.55" fill="#df7b80"/>
<circle cx="576.58" cy="434.57" r="1.55" fill="#df7b80"/>
<circle cx="556.78" cy="442.2" r="1.55" fill="#df7b80"/>
<circle cx="560.74" cy="442.2" r="1.55" fill="#df7b80"/>
<circle cx="564.7" cy="442.2" r="1.55" fill="#df7b80"/>
<circle cx="568.66" cy="442.2" r="1.55" fill="#df7b80"/>
<circle cx="572.62" cy="442.2" r="1.55" fill="#df7b80"/>
<circle cx="560.74" cy="449.83" r="1.55" fill="#df7b80"/>
<circle cx="564.7" cy="449.83" r="1.55" fill="#df7b80"/>
<circle cx="568.66" cy="449.83" r="1.55" fill="#df7b80"/>
<circle cx="562.72" cy="465.1" r="1.55" fill="#df7b80"/>
<circle cx="566.68" cy="465.1" r="1.55" fill="#df7b80"/>
<line x1="548.75" y1="405.18" x2="580.65" y2="405.18" stroke="#000" stroke-width="1.7"/>
<line x1="556.7" y1="401.5" x2="572.7" y2="401.5" stroke="#000" stroke-width="1.05"/>
<line x1="556.7" y1="409.5" x2="572.7" y2="409.5" stroke="#000" stroke-width="1.05"/>
<line x1="564.7" y1="401.74" x2="564.7" y2="409.38" stroke="#000" stroke-width="1.05"/>
<rect x="610.75" y="364.32" width="4.7" height="3.1" rx="1.3" fill="#e3a048"/>
<rect x="611.3" y="371.95" width="3.6" height="3.1" rx="1.3" fill="#e3a048"/>
<rect x="611.3" y="387.22" width="3.6" height="3.1" rx="1.3" fill="#e3a048"/>
<rect x="611.3" y="394.85" width="3.6" height="3.1" rx="1.3" fill="#e3a048"/>
<rect x="611.3" y="402.48" width="3.6" height="3.1" rx="1.3" fill="#e3a048"/>
<rect x="610.75" y="410.12" width="4.7" height="3.1" rx="1.3" fill="#e3a048"/>
<rect x="610.75" y="417.75" width="4.7" height="3.1" rx="1.3" fill="#e3a048"/>
<rect x="609.6" y="425.38" width="7" height="3.1" rx="1.3" fill="#e3a048"/>
<rect x="610.25" y="433.02" width="5.7" height="3.1" rx="1.3" fill="#e3a048"/>
<rect x="608.1" y="440.65" width="10" height="3.1" rx="1.3" fill="#e3a048"/>
<rect x="605.35" y="448.28" width="15.5" height="3.1" rx="1.3" fill="#e3a048"/>
<rect x="608.1" y="455.92" width="10" height="3.1" rx="1.3" fill="#e3a048"/>
<rect x="597.7" y="463.55" width="30.8" height="3.1" rx="1.3" fill="#e3a048"/>
<rect x="608.6" y="471.18" width="9" height="3.1" rx="1.3" fill="#e3a048"/>
<line x1="596.95" y1="448.08" x2="629.25" y2="448.08" stroke="#000" stroke-width="1.7"/>
<line x1="605.1" y1="445.5" x2="621.1" y2="445.5" stroke="#000" stroke-width="1.05"/>
<line x1="605.1" y1="450.5" x2="621.1" y2="450.5" stroke="#000" stroke-width="1.05"/>
<line x1="613.1" y1="445.79" x2="613.1" y2="450.37" stroke="#000" stroke-width="1.05"/>
<path d="M454.4 459.25L454.4 465.95M451.5 460.93L457.3 464.28M451.5 464.28L457.3 460.93M464.4 459.25L464.4 465.95M461.5 460.93L467.3 464.28M461.5 464.28L467.3 460.93M474.4 459.25L474.4 465.95M471.5 460.93L477.3 464.28M471.5 464.28L477.3 460.93M484.4 459.25L484.4 465.95M481.5 460.93L487.3 464.28M481.5 464.28L487.3 460.93" stroke="#000" stroke-width="1.6" stroke-linecap="round" fill="none"/>
<path d="M503.8 306.65L503.8 313.35M500.9 308.32L506.7 311.68M500.9 311.68L506.7 308.32M513.8 306.65L513.8 313.35M510.9 308.32L516.7 311.68M510.9 311.68L516.7 308.32M523.8 306.65L523.8 313.35M520.9 308.32L526.7 311.68M520.9 311.68L526.7 308.32M533.8 306.65L533.8 313.35M530.9 308.32L536.7 311.68M530.9 311.68L536.7 308.32" stroke="#000" stroke-width="1.6" stroke-linecap="round" fill="none"/>
<path d="M551.5 306.65L551.5 313.35M548.6 308.32L554.4 311.68M548.6 311.68L554.4 308.32M561.5 306.65L561.5 313.35M558.6 308.32L564.4 311.68M558.6 311.68L564.4 308.32M571.5 306.65L571.5 313.35M568.6 308.32L574.4 311.68M568.6 311.68L574.4 308.32M581.5 306.65L581.5 313.35M578.6 308.32L584.4 311.68M578.6 311.68L584.4 308.32" stroke="#000" stroke-width="1.6" stroke-linecap="round" fill="none"/>
<path d="M598.2 345.35L598.2 352.05M595.3 347.02L601.1 350.38M595.3 350.38L601.1 347.02M608.2 345.35L608.2 352.05M605.3 347.02L611.1 350.38M605.3 350.38L611.1 347.02M618.2 345.35L618.2 352.05M615.3 347.02L621.1 350.38M615.3 350.38L621.1 347.02M628.2 345.35L628.2 352.05M625.3 347.02L631.1 350.38M625.3 350.38L631.1 347.02" stroke="#000" stroke-width="1.6" stroke-linecap="round" fill="none"/>
<path d="M557.5 265.85L557.5 272.55M554.6 267.52L560.4 270.88M554.6 270.88L560.4 267.52M567.5 265.85L567.5 272.55M564.6 267.52L570.4 270.88M564.6 270.88L570.4 267.52M577.5 265.85L577.5 272.55M574.6 267.52L580.4 270.88M574.6 270.88L580.4 267.52" stroke="#000" stroke-width="1.6" stroke-linecap="round" fill="none"/>
<line x1="516.3" y1="279.5" x2="614.7" y2="279.5" stroke="#000" stroke-width="1.2"/>
<path d="M578.1 284.95L578.1 291.65M575.2 286.62L581 289.98M575.2 289.98L581 286.62M588.1 284.95L588.1 291.65M585.2 286.62L591 289.98M585.2 289.98L591 286.62M598.1 284.95L598.1 291.65M595.2 286.62L601 289.98M595.2 289.98L601 286.62M608.1 284.95L608.1 291.65M605.2 286.62L611 289.98M605.2 289.98L611 286.62" stroke="#000" stroke-width="1.6" stroke-linecap="round" fill="none"/>
<line x1="565.8" y1="298.5" x2="614.7" y2="298.5" stroke="#000" stroke-width="1.2"/>
<text transform="translate(425,508) rotate(-45)" font-size="15.5" text-anchor="end">WT</text>
<text transform="translate(473,508) rotate(-45)" font-size="15.5" text-anchor="end"><tspan font-style="italic">cap10</tspan>Δ</text>
<text transform="translate(521,508) rotate(-45)" font-size="15.5" text-anchor="end"><tspan font-style="italic">yap1</tspan>Δ</text>
<text transform="translate(570,509) rotate(-45)" font-size="15.5" text-anchor="end"><tspan font-style="italic">bzp4</tspan>Δ</text>
<text transform="translate(609,511.5) rotate(-45)" font-size="15.5" text-anchor="end"><tspan font-style="italic">yap1</tspan>Δ</text>
<text transform="translate(628,525) rotate(-45)" font-size="15.5" text-anchor="end"><tspan font-style="italic">bzp4</tspan>Δ</text>
<path d="M59.4 786.8V557H301V786.8Z" fill="none" stroke="#000" stroke-width="2.0"/>
<line x1="54.4" y1="786.8" x2="59.4" y2="786.8" stroke="#000" stroke-width="2"/>
<text x="52" y="792.56" font-size="16" font-weight="bold" font-style="normal" text-anchor="end" fill="#000" textLength="8.32" lengthAdjust="spacingAndGlyphs">0</text>
<line x1="54.4" y1="710.2" x2="59.4" y2="710.2" stroke="#000" stroke-width="2"/>
<text x="52" y="715.96" font-size="16" font-weight="bold" font-style="normal" text-anchor="end" fill="#000" textLength="16.64" lengthAdjust="spacingAndGlyphs">10</text>
<line x1="54.4" y1="633.6" x2="59.4" y2="633.6" stroke="#000" stroke-width="2"/>
<text x="52" y="639.36" font-size="16" font-weight="bold" font-style="normal" text-anchor="end" fill="#000" textLength="16.64" lengthAdjust="spacingAndGlyphs">20</text>
<line x1="54.4" y1="557" x2="59.4" y2="557" stroke="#000" stroke-width="2"/>
<text x="52" y="562.76" font-size="16" font-weight="bold" font-style="normal" text-anchor="end" fill="#000" textLength="16.64" lengthAdjust="spacingAndGlyphs">30</text>
<line x1="83" y1="786.8" x2="83" y2="791.8" stroke="#000" stroke-width="2"/>
<line x1="131" y1="786.8" x2="131" y2="791.8" stroke="#000" stroke-width="2"/>
<line x1="179.4" y1="786.8" x2="179.4" y2="791.8" stroke="#000" stroke-width="2"/>
<line x1="227.7" y1="786.8" x2="227.7" y2="791.8" stroke="#000" stroke-width="2"/>
<line x1="276.1" y1="786.8" x2="276.1" y2="791.8" stroke="#000" stroke-width="2"/>
<text transform="translate(27.5,670.6) rotate(-90)" font-size="15.6" text-anchor="middle" textLength="163" lengthAdjust="spacingAndGlyphs">Capsule thickness (µm)</text>
<text transform="translate(305.5,663.8) rotate(90)" font-size="14.6" text-anchor="middle" textLength="141.2" lengthAdjust="spacingAndGlyphs">Littman's medium</text>
<rect x="81.2" y="593.75" width="3.6" height="3.1" rx="1.3" fill="#787878"/>
<rect x="80.5" y="609.07" width="5" height="3.1" rx="1.3" fill="#787878"/>
<rect x="78" y="624.39" width="10" height="3.1" rx="1.3" fill="#787878"/>
<rect x="79.7" y="632.05" width="6.6" height="3.1" rx="1.3" fill="#787878"/>
<rect x="73.85" y="639.71" width="18.3" height="3.1" rx="1.3" fill="#787878"/>
<rect x="76.7" y="647.37" width="12.6" height="3.1" rx="1.3" fill="#787878"/>
<rect x="75.05" y="655.03" width="15.9" height="3.1" rx="1.3" fill="#787878"/>
<rect x="77.8" y="662.69" width="10.4" height="3.1" rx="1.3" fill="#787878"/>
<rect x="67.6" y="670.35" width="30.8" height="3.1" rx="1.3" fill="#787878"/>
<rect x="76.05" y="678.01" width="13.9" height="3.1" rx="1.3" fill="#787878"/>
<rect x="79.7" y="685.67" width="6.6" height="3.1" rx="1.3" fill="#787878"/>
<rect x="79" y="693.33" width="8" height="3.1" rx="1.3" fill="#787878"/>
<rect x="81.2" y="700.99" width="3.6" height="3.1" rx="1.3" fill="#787878"/>
<line x1="67" y1="658.88" x2="99" y2="658.88" stroke="#000" stroke-width="1.7"/>
<line x1="75" y1="656.5" x2="91" y2="656.5" stroke="#000" stroke-width="1.05"/>
<line x1="75" y1="661.5" x2="91" y2="661.5" stroke="#000" stroke-width="1.05"/>
<line x1="83" y1="656.2" x2="83" y2="661.56" stroke="#000" stroke-width="1.05"/>
<rect x="129.2" y="662.69" width="3.6" height="3.1" rx="1.3" fill="#df7b80"/>
<rect x="128.8" y="708.65" width="4.4" height="3.1" rx="1.3" fill="#df7b80"/>
<rect x="129.2" y="716.31" width="3.6" height="3.1" rx="1.3" fill="#df7b80"/>
<rect x="127" y="723.97" width="8" height="3.1" rx="1.3" fill="#df7b80"/>
<rect x="124.05" y="731.63" width="13.9" height="3.1" rx="1.3" fill="#df7b80"/>
<rect x="116" y="739.29" width="30" height="3.1" rx="1.3" fill="#df7b80"/>
<rect x="119.65" y="746.95" width="22.7" height="3.1" rx="1.3" fill="#df7b80"/>
<rect x="121.85" y="754.61" width="18.3" height="3.1" rx="1.3" fill="#df7b80"/>
<rect x="126.6" y="762.27" width="8.8" height="3.1" rx="1.3" fill="#df7b80"/>
<line x1="114.7" y1="741.99" x2="147.3" y2="741.99" stroke="#000" stroke-width="1.7"/>
<line x1="123" y1="740.5" x2="139" y2="740.5" stroke="#000" stroke-width="1.05"/>
<line x1="123" y1="743.5" x2="139" y2="743.5" stroke="#000" stroke-width="1.05"/>
<line x1="131" y1="740.46" x2="131" y2="743.52" stroke="#000" stroke-width="1.05"/>
<rect x="177.6" y="746.95" width="3.6" height="3.1" rx="1.3" fill="#db8282"/>
<rect x="171.15" y="754.61" width="16.5" height="3.1" rx="1.3" fill="#db8282"/>
<rect x="164.4" y="762.27" width="30" height="3.1" rx="1.3" fill="#db8282"/>
<rect x="173.9" y="769.93" width="11" height="3.1" rx="1.3" fill="#db8282"/>
<rect x="177.6" y="777.59" width="3.6" height="3.1" rx="1.3" fill="#db8282"/>
<line x1="163.4" y1="763.05" x2="195.4" y2="763.05" stroke="#000" stroke-width="1.7"/>
<line x1="171.4" y1="762.5" x2="187.4" y2="762.5" stroke="#000" stroke-width="1.05"/>
<line x1="171.4" y1="763.5" x2="187.4" y2="763.5" stroke="#000" stroke-width="1.05"/>
<line x1="179.4" y1="762.29" x2="179.4" y2="763.82" stroke="#000" stroke-width="1.05"/>
<rect x="225.9" y="754.61" width="3.6" height="3.1" rx="1.3" fill="#d9668c"/>
<rect x="220" y="762.27" width="15.4" height="3.1" rx="1.3" fill="#d9668c"/>
<rect x="212.7" y="769.93" width="30" height="3.1" rx="1.3" fill="#d9668c"/>
<rect x="223.85" y="777.59" width="7.7" height="3.1" rx="1.3" fill="#d9668c"/>
<line x1="211.95" y1="769.95" x2="243.45" y2="769.95" stroke="#000" stroke-width="1.7"/>
<line x1="219.7" y1="769.5" x2="235.7" y2="769.5" stroke="#000" stroke-width="1.05"/>
<line x1="219.7" y1="770.5" x2="235.7" y2="770.5" stroke="#000" stroke-width="1.05"/>
<line x1="227.7" y1="769.18" x2="227.7" y2="770.71" stroke="#000" stroke-width="1.05"/>
<rect x="272.25" y="777.59" width="7.7" height="3.1" rx="1.3" fill="#a3a3a3"/>
<rect x="261.25" y="785.25" width="29.7" height="3.1" rx="1.3" fill="#a3a3a3"/>
<line x1="261.25" y1="786.42" x2="290.95" y2="786.42" stroke="#000" stroke-width="1.7"/>
<path d="M118.4 645.35L118.4 652.05M115.5 647.03L121.3 650.38M115.5 650.38L121.3 647.03M128.4 645.35L128.4 652.05M125.5 647.03L131.3 650.38M125.5 650.38L131.3 647.03M138.4 645.35L138.4 652.05M135.5 647.03L141.3 650.38M135.5 650.38L141.3 647.03M148.4 645.35L148.4 652.05M145.5 647.03L151.3 650.38M145.5 650.38L151.3 647.03" stroke="#000" stroke-width="1.6" stroke-linecap="round" fill="none"/>
<path d="M166.3 726.15L166.3 732.85M163.4 727.83L169.2 731.17M163.4 731.17L169.2 727.83M176.3 726.15L176.3 732.85M173.4 727.83L179.2 731.17M173.4 731.17L179.2 727.83M186.3 726.15L186.3 732.85M183.4 727.83L189.2 731.17M183.4 731.17L189.2 727.83M196.3 726.15L196.3 732.85M193.4 727.83L199.2 731.17M193.4 731.17L199.2 727.83" stroke="#000" stroke-width="1.6" stroke-linecap="round" fill="none"/>
<path d="M214.5 734.95L214.5 741.65M211.6 736.62L217.4 739.97M211.6 739.97L217.4 736.62M224.5 734.95L224.5 741.65M221.6 736.62L227.4 739.97M221.6 739.97L227.4 736.62M234.5 734.95L234.5 741.65M231.6 736.62L237.4 739.97M231.6 739.97L237.4 736.62M244.5 734.95L244.5 741.65M241.6 736.62L247.4 739.97M241.6 739.97L247.4 736.62" stroke="#000" stroke-width="1.6" stroke-linecap="round" fill="none"/>
<path d="M260.9 756.95L260.9 763.65M258 758.62L263.8 761.97M258 761.97L263.8 758.62M270.9 756.95L270.9 763.65M268 758.62L273.8 761.97M268 761.97L273.8 758.62M280.9 756.95L280.9 763.65M278 758.62L283.8 761.97M278 761.97L283.8 758.62M290.9 756.95L290.9 763.65M288 758.62L293.8 761.97M288 761.97L293.8 758.62" stroke="#000" stroke-width="1.6" stroke-linecap="round" fill="none"/>
<rect x="177.5" y="566.6" width="123.5" height="123.2" fill="#fff"/>
<path d="M177.5 689.8V566.6H301V689.8Z" fill="none" stroke="#000" stroke-width="2.0"/>
<line x1="172.5" y1="689.8" x2="177.5" y2="689.8" stroke="#000" stroke-width="2"/>
<text x="170.9" y="695.56" font-size="16" font-weight="bold" font-style="normal" text-anchor="end" fill="#000" textLength="8.9" lengthAdjust="spacingAndGlyphs">0</text>
<line x1="172.5" y1="659" x2="177.5" y2="659" stroke="#000" stroke-width="2"/>
<text x="170.9" y="664.76" font-size="16" font-weight="bold" font-style="normal" text-anchor="end" fill="#000" textLength="8.9" lengthAdjust="spacingAndGlyphs">2</text>
<line x1="172.5" y1="628.2" x2="177.5" y2="628.2" stroke="#000" stroke-width="2"/>
<text x="170.9" y="633.96" font-size="16" font-weight="bold" font-style="normal" text-anchor="end" fill="#000" textLength="8.9" lengthAdjust="spacingAndGlyphs">4</text>
<line x1="172.5" y1="597.4" x2="177.5" y2="597.4" stroke="#000" stroke-width="2"/>
<text x="170.9" y="603.16" font-size="16" font-weight="bold" font-style="normal" text-anchor="end" fill="#000" textLength="8.9" lengthAdjust="spacingAndGlyphs">6</text>
<line x1="172.5" y1="566.6" x2="177.5" y2="566.6" stroke="#000" stroke-width="2"/>
<text x="170.9" y="572.36" font-size="16" font-weight="bold" font-style="normal" text-anchor="end" fill="#000" textLength="8.9" lengthAdjust="spacingAndGlyphs">8</text>
<line x1="207.9" y1="689.8" x2="207.9" y2="694.8" stroke="#000" stroke-width="2"/>
<line x1="269.8" y1="689.8" x2="269.8" y2="694.8" stroke="#000" stroke-width="2"/>
<rect x="205.15" y="611.25" width="5.5" height="3.1" rx="1.3" fill="#db8282"/>
<rect x="196.9" y="626.65" width="22" height="3.1" rx="1.3" fill="#db8282"/>
<rect x="188.1" y="642.05" width="39.6" height="3.1" rx="1.3" fill="#db8282"/>
<rect x="200.75" y="657.45" width="14.3" height="3.1" rx="1.3" fill="#db8282"/>
<rect x="206.1" y="672.85" width="3.6" height="3.1" rx="1.3" fill="#db8282"/>
<line x1="187.9" y1="640.67" x2="227.9" y2="640.67" stroke="#000" stroke-width="2.1"/>
<line x1="197.9" y1="639.13" x2="217.9" y2="639.13" stroke="#000" stroke-width="1.5"/>
<line x1="197.9" y1="642.21" x2="217.9" y2="642.21" stroke="#000" stroke-width="1.5"/>
<line x1="207.9" y1="639.13" x2="207.9" y2="642.21" stroke="#000" stroke-width="1.5"/>
<rect x="268" y="626.65" width="3.6" height="3.1" rx="1.3" fill="#d9668c"/>
<rect x="259.9" y="642.05" width="19.8" height="3.1" rx="1.3" fill="#d9668c"/>
<rect x="250" y="657.45" width="39.6" height="3.1" rx="1.3" fill="#d9668c"/>
<rect x="265.05" y="672.85" width="9.5" height="3.1" rx="1.3" fill="#d9668c"/>
<line x1="249.45" y1="655.77" x2="290.15" y2="655.77" stroke="#000" stroke-width="2.1"/>
<line x1="259.8" y1="654.38" x2="279.8" y2="654.38" stroke="#000" stroke-width="1.5"/>
<line x1="259.8" y1="657.15" x2="279.8" y2="657.15" stroke="#000" stroke-width="1.5"/>
<line x1="269.8" y1="654.38" x2="269.8" y2="657.15" stroke="#000" stroke-width="1.5"/>
<path d="M234 592.45L234 599.15M231.1 594.12L236.9 597.47M231.1 597.47L236.9 594.12M244 592.45L244 599.15M241.1 594.12L246.9 597.47M241.1 597.47L246.9 594.12" stroke="#000" stroke-width="1.6" stroke-linecap="round" fill="none"/>
<line x1="207.9" y1="604.5" x2="270.2" y2="604.5" stroke="#000" stroke-width="1.2"/>
<path d="M58.5 1030V800H301.5V1030Z" fill="none" stroke="#000" stroke-width="2.0"/>
<line x1="53.5" y1="1030" x2="58.5" y2="1030" stroke="#000" stroke-width="2"/>
<text x="51.1" y="1035.76" font-size="16" font-weight="bold" font-style="normal" text-anchor="end" fill="#000" textLength="8.32" lengthAdjust="spacingAndGlyphs">0</text>
<line x1="53.5" y1="953.33" x2="58.5" y2="953.33" stroke="#000" stroke-width="2"/>
<text x="51.1" y="959.09" font-size="16" font-weight="bold" font-style="normal" text-anchor="end" fill="#000" textLength="16.64" lengthAdjust="spacingAndGlyphs">10</text>
<line x1="53.5" y1="876.67" x2="58.5" y2="876.67" stroke="#000" stroke-width="2"/>
<text x="51.1" y="882.43" font-size="16" font-weight="bold" font-style="normal" text-anchor="end" fill="#000" textLength="16.64" lengthAdjust="spacingAndGlyphs">20</text>
<line x1="53.5" y1="800" x2="58.5" y2="800" stroke="#000" stroke-width="2"/>
<text x="51.1" y="805.76" font-size="16" font-weight="bold" font-style="normal" text-anchor="end" fill="#000" textLength="16.64" lengthAdjust="spacingAndGlyphs">30</text>
<line x1="82.6" y1="1030" x2="82.6" y2="1035" stroke="#000" stroke-width="2"/>
<line x1="130.8" y1="1030" x2="130.8" y2="1035" stroke="#000" stroke-width="2"/>
<line x1="179.2" y1="1030" x2="179.2" y2="1035" stroke="#000" stroke-width="2"/>
<line x1="227.8" y1="1030" x2="227.8" y2="1035" stroke="#000" stroke-width="2"/>
<line x1="275.8" y1="1030" x2="275.8" y2="1035" stroke="#000" stroke-width="2"/>
<text transform="translate(27.5,913.5) rotate(-90)" font-size="15.6" text-anchor="middle" textLength="163" lengthAdjust="spacingAndGlyphs">Capsule thickness (µm)</text>
<text transform="translate(305.5,898.95) rotate(90)" font-size="14.6" text-anchor="middle" textLength="102.5" lengthAdjust="spacingAndGlyphs">FBS medium</text>
<rect x="79.85" y="913.45" width="5.5" height="3.1" rx="1.3" fill="#787878"/>
<rect x="80.8" y="921.12" width="3.6" height="3.1" rx="1.3" fill="#787878"/>
<rect x="71.9" y="928.78" width="21.4" height="3.1" rx="1.3" fill="#787878"/>
<rect x="70.5" y="936.45" width="24.2" height="3.1" rx="1.3" fill="#787878"/>
<rect x="67.2" y="944.12" width="30.8" height="3.1" rx="1.3" fill="#787878"/>
<rect x="68.5" y="951.78" width="28.2" height="3.1" rx="1.3" fill="#787878"/>
<rect x="69.4" y="959.45" width="26.4" height="3.1" rx="1.3" fill="#787878"/>
<rect x="73.15" y="967.12" width="18.9" height="3.1" rx="1.3" fill="#787878"/>
<rect x="77.85" y="974.78" width="9.5" height="3.1" rx="1.3" fill="#787878"/>
<rect x="80.8" y="982.45" width="3.6" height="3.1" rx="1.3" fill="#787878"/>
<line x1="66.5" y1="949.5" x2="98.7" y2="949.5" stroke="#000" stroke-width="1.7"/>
<line x1="74.6" y1="947.5" x2="90.6" y2="947.5" stroke="#000" stroke-width="1.05"/>
<line x1="74.6" y1="951.5" x2="90.6" y2="951.5" stroke="#000" stroke-width="1.05"/>
<line x1="82.6" y1="947.97" x2="82.6" y2="951.03" stroke="#000" stroke-width="1.05"/>
<rect x="129" y="959.45" width="3.6" height="3.1" rx="1.3" fill="#df7b80"/>
<rect x="128.8" y="967.12" width="4" height="3.1" rx="1.3" fill="#df7b80"/>
<rect x="127.05" y="974.78" width="7.5" height="3.1" rx="1.3" fill="#df7b80"/>
<rect x="126.4" y="982.45" width="8.8" height="3.1" rx="1.3" fill="#df7b80"/>
<rect x="118.7" y="990.12" width="24.2" height="3.1" rx="1.3" fill="#df7b80"/>
<rect x="117.8" y="997.78" width="26" height="3.1" rx="1.3" fill="#df7b80"/>
<rect x="118.3" y="1005.45" width="25" height="3.1" rx="1.3" fill="#df7b80"/>
<rect x="125.8" y="1013.12" width="10" height="3.1" rx="1.3" fill="#df7b80"/>
<rect x="129" y="1020.78" width="3.6" height="3.1" rx="1.3" fill="#df7b80"/>
<line x1="114.7" y1="997.26" x2="146.9" y2="997.26" stroke="#000" stroke-width="1.7"/>
<line x1="122.8" y1="996.5" x2="138.8" y2="996.5" stroke="#000" stroke-width="1.05"/>
<line x1="122.8" y1="998.5" x2="138.8" y2="998.5" stroke="#000" stroke-width="1.05"/>
<line x1="130.8" y1="996.11" x2="130.8" y2="998.41" stroke="#000" stroke-width="1.05"/>
<rect x="177.4" y="997.78" width="3.6" height="3.1" rx="1.3" fill="#db8282"/>
<rect x="169.5" y="1005.45" width="19.4" height="3.1" rx="1.3" fill="#db8282"/>
<rect x="164.2" y="1013.12" width="30" height="3.1" rx="1.3" fill="#db8282"/>
<rect x="177.4" y="1020.78" width="3.6" height="3.1" rx="1.3" fill="#db8282"/>
<line x1="163.2" y1="1011.6" x2="195.2" y2="1011.6" stroke="#000" stroke-width="1.7"/>
<line x1="171.2" y1="1010.5" x2="187.2" y2="1010.5" stroke="#000" stroke-width="1.05"/>
<line x1="171.2" y1="1012.5" x2="187.2" y2="1012.5" stroke="#000" stroke-width="1.05"/>
<line x1="179.2" y1="1010.83" x2="179.2" y2="1012.37" stroke="#000" stroke-width="1.05"/>
<rect x="226" y="982.45" width="3.6" height="3.1" rx="1.3" fill="#d9668c"/>
<rect x="226" y="997.78" width="3.6" height="3.1" rx="1.3" fill="#d9668c"/>
<rect x="220.4" y="1005.45" width="14.8" height="3.1" rx="1.3" fill="#d9668c"/>
<rect x="212.95" y="1013.12" width="29.7" height="3.1" rx="1.3" fill="#d9668c"/>
<rect x="224.15" y="1020.78" width="7.3" height="3.1" rx="1.3" fill="#d9668c"/>
<line x1="211.85" y1="1012.21" x2="243.75" y2="1012.21" stroke="#000" stroke-width="1.7"/>
<line x1="219.8" y1="1011.5" x2="235.8" y2="1011.5" stroke="#000" stroke-width="1.05"/>
<line x1="219.8" y1="1012.5" x2="235.8" y2="1012.5" stroke="#000" stroke-width="1.05"/>
<line x1="227.8" y1="1011.45" x2="227.8" y2="1012.98" stroke="#000" stroke-width="1.05"/>
<rect x="271.95" y="1020.78" width="7.7" height="3.1" rx="1.3" fill="#a3a3a3"/>
<rect x="260.15" y="1028.45" width="31.3" height="3.1" rx="1.3" fill="#a3a3a3"/>
<line x1="260.15" y1="1029.62" x2="291.45" y2="1029.62" stroke="#000" stroke-width="1.7"/>
<path d="M117.1 939.65L117.1 946.35M114.2 941.33L120 944.67M114.2 944.67L120 941.33M127.1 939.65L127.1 946.35M124.2 941.33L130 944.67M124.2 944.67L130 941.33M137.1 939.65L137.1 946.35M134.2 941.33L140 944.67M134.2 944.67L140 941.33M147.1 939.65L147.1 946.35M144.2 941.33L150 944.67M144.2 944.67L150 941.33" stroke="#000" stroke-width="1.6" stroke-linecap="round" fill="none"/>
<path d="M165.5 975.55L165.5 982.25M162.6 977.23L168.4 980.57M162.6 980.57L168.4 977.23M175.5 975.55L175.5 982.25M172.6 977.23L178.4 980.57M172.6 980.57L178.4 977.23M185.5 975.55L185.5 982.25M182.6 977.23L188.4 980.57M182.6 980.57L188.4 977.23M195.5 975.55L195.5 982.25M192.6 977.23L198.4 980.57M192.6 980.57L198.4 977.23" stroke="#000" stroke-width="1.6" stroke-linecap="round" fill="none"/>
<path d="M213.6 961.65L213.6 968.35M210.7 963.33L216.5 966.67M210.7 966.67L216.5 963.33M223.6 961.65L223.6 968.35M220.7 963.33L226.5 966.67M220.7 966.67L226.5 963.33M233.6 961.65L233.6 968.35M230.7 963.33L236.5 966.67M230.7 966.67L236.5 963.33M243.6 961.65L243.6 968.35M240.7 963.33L246.5 966.67M240.7 966.67L246.5 963.33" stroke="#000" stroke-width="1.6" stroke-linecap="round" fill="none"/>
<path d="M260 998.65L260 1005.35M257.1 1000.33L262.9 1003.67M257.1 1003.67L262.9 1000.33M270 998.65L270 1005.35M267.1 1000.33L272.9 1003.67M267.1 1003.67L272.9 1000.33M280 998.65L280 1005.35M277.1 1000.33L282.9 1003.67M277.1 1003.67L282.9 1000.33M290 998.65L290 1005.35M287.1 1000.33L292.9 1003.67M287.1 1003.67L292.9 1000.33" stroke="#000" stroke-width="1.6" stroke-linecap="round" fill="none"/>
<rect x="177.5" y="811" width="124" height="123.2" fill="#fff"/>
<path d="M177.5 934.2V811H301.5V934.2Z" fill="none" stroke="#000" stroke-width="2.0"/>
<line x1="172.5" y1="934.2" x2="177.5" y2="934.2" stroke="#000" stroke-width="2"/>
<text x="170.9" y="939.96" font-size="16" font-weight="bold" font-style="normal" text-anchor="end" fill="#000" textLength="8.9" lengthAdjust="spacingAndGlyphs">0</text>
<line x1="172.5" y1="903.4" x2="177.5" y2="903.4" stroke="#000" stroke-width="2"/>
<text x="170.9" y="909.16" font-size="16" font-weight="bold" font-style="normal" text-anchor="end" fill="#000" textLength="8.9" lengthAdjust="spacingAndGlyphs">2</text>
<line x1="172.5" y1="872.6" x2="177.5" y2="872.6" stroke="#000" stroke-width="2"/>
<text x="170.9" y="878.36" font-size="16" font-weight="bold" font-style="normal" text-anchor="end" fill="#000" textLength="8.9" lengthAdjust="spacingAndGlyphs">4</text>
<line x1="172.5" y1="841.8" x2="177.5" y2="841.8" stroke="#000" stroke-width="2"/>
<text x="170.9" y="847.56" font-size="16" font-weight="bold" font-style="normal" text-anchor="end" fill="#000" textLength="8.9" lengthAdjust="spacingAndGlyphs">6</text>
<line x1="172.5" y1="811" x2="177.5" y2="811" stroke="#000" stroke-width="2"/>
<text x="170.9" y="816.76" font-size="16" font-weight="bold" font-style="normal" text-anchor="end" fill="#000" textLength="8.9" lengthAdjust="spacingAndGlyphs">8</text>
<line x1="207.9" y1="934.2" x2="207.9" y2="939.2" stroke="#000" stroke-width="2"/>
<line x1="269.8" y1="934.2" x2="269.8" y2="939.2" stroke="#000" stroke-width="2"/>
<rect x="205.15" y="871.05" width="5.5" height="3.1" rx="1.3" fill="#db8282"/>
<rect x="196.1" y="886.45" width="23.6" height="3.1" rx="1.3" fill="#db8282"/>
<rect x="188.1" y="901.85" width="39.6" height="3.1" rx="1.3" fill="#db8282"/>
<rect x="205.7" y="917.25" width="4.4" height="3.1" rx="1.3" fill="#db8282"/>
<line x1="187.9" y1="897.55" x2="227.9" y2="897.55" stroke="#000" stroke-width="2.1"/>
<line x1="197.9" y1="896.01" x2="217.9" y2="896.01" stroke="#000" stroke-width="1.5"/>
<line x1="197.9" y1="899.09" x2="217.9" y2="899.09" stroke="#000" stroke-width="1.5"/>
<line x1="207.9" y1="896.01" x2="207.9" y2="899.09" stroke="#000" stroke-width="1.5"/>
<rect x="268" y="840.25" width="3.6" height="3.1" rx="1.3" fill="#d9668c"/>
<rect x="268" y="871.05" width="3.6" height="3.1" rx="1.3" fill="#d9668c"/>
<rect x="261" y="886.45" width="17.6" height="3.1" rx="1.3" fill="#d9668c"/>
<rect x="250" y="901.85" width="39.6" height="3.1" rx="1.3" fill="#d9668c"/>
<rect x="266.15" y="917.25" width="7.3" height="3.1" rx="1.3" fill="#d9668c"/>
<line x1="249.45" y1="899.4" x2="290.15" y2="899.4" stroke="#000" stroke-width="2.1"/>
<line x1="259.8" y1="898.01" x2="279.8" y2="898.01" stroke="#000" stroke-width="1.5"/>
<line x1="259.8" y1="900.78" x2="279.8" y2="900.78" stroke="#000" stroke-width="1.5"/>
<line x1="269.8" y1="898.01" x2="269.8" y2="900.78" stroke="#000" stroke-width="1.5"/>
<text x="238.9" y="828.2" font-size="13.9" font-weight="normal" font-style="normal" text-anchor="middle" fill="#000" textLength="17.4" lengthAdjust="spacingAndGlyphs">NS</text>
<line x1="205.7" y1="835.5" x2="271.7" y2="835.5" stroke="#000" stroke-width="1.2"/>
<text transform="translate(88,1050) rotate(-45)" font-size="15.5" text-anchor="end">WT</text>
<text transform="translate(137,1050) rotate(-45)" font-size="15.5" text-anchor="end"><tspan font-style="italic">ada2</tspan>Δ</text>
<text transform="translate(185,1049.5) rotate(-45)" font-size="15.5" text-anchor="end"><tspan font-style="italic">gat201</tspan>Δ</text>
<text transform="translate(224,1052.5) rotate(-45)" font-size="15.5" text-anchor="end"><tspan font-style="italic">gat201</tspan>Δ</text>
<text transform="translate(243,1065.5) rotate(-45)" font-size="15.5" text-anchor="end"><tspan font-style="italic">ada2</tspan>Δ</text>
<text transform="translate(281.5,1049.5) rotate(-45)" font-size="15.5" text-anchor="end"><tspan font-style="italic">cap10</tspan>Δ</text>
<path d="M396.6 786V557H636.3V786Z" fill="none" stroke="#000" stroke-width="2.0"/>
<line x1="391.6" y1="786" x2="396.6" y2="786" stroke="#000" stroke-width="2"/>
<text x="389.2" y="791.76" font-size="16" font-weight="bold" font-style="normal" text-anchor="end" fill="#000" textLength="8.32" lengthAdjust="spacingAndGlyphs">0</text>
<line x1="391.6" y1="709.67" x2="396.6" y2="709.67" stroke="#000" stroke-width="2"/>
<text x="389.2" y="715.43" font-size="16" font-weight="bold" font-style="normal" text-anchor="end" fill="#000" textLength="16.64" lengthAdjust="spacingAndGlyphs">10</text>
<line x1="391.6" y1="633.33" x2="396.6" y2="633.33" stroke="#000" stroke-width="2"/>
<text x="389.2" y="639.09" font-size="16" font-weight="bold" font-style="normal" text-anchor="end" fill="#000" textLength="16.64" lengthAdjust="spacingAndGlyphs">20</text>
<line x1="391.6" y1="557" x2="396.6" y2="557" stroke="#000" stroke-width="2"/>
<text x="389.2" y="562.76" font-size="16" font-weight="bold" font-style="normal" text-anchor="end" fill="#000" textLength="16.64" lengthAdjust="spacingAndGlyphs">30</text>
<line x1="420.7" y1="786" x2="420.7" y2="791" stroke="#000" stroke-width="2"/>
<line x1="468" y1="786" x2="468" y2="791" stroke="#000" stroke-width="2"/>
<line x1="516" y1="786" x2="516" y2="791" stroke="#000" stroke-width="2"/>
<line x1="563.8" y1="786" x2="563.8" y2="791" stroke="#000" stroke-width="2"/>
<line x1="611.6" y1="786" x2="611.6" y2="791" stroke="#000" stroke-width="2"/>
<text transform="translate(363.5,669.8) rotate(-90)" font-size="15.6" text-anchor="middle" textLength="163" lengthAdjust="spacingAndGlyphs">Capsule thickness (µm)</text>
<text transform="translate(642.8,671.9) rotate(90)" font-size="14.6" text-anchor="middle" textLength="138" lengthAdjust="spacingAndGlyphs">Littman's medium</text>
<circle cx="420.7" cy="564.63" r="1.6" fill="#787878"/>
<circle cx="420.7" cy="587.53" r="1.6" fill="#787878"/>
<circle cx="418.45" cy="595.17" r="1.6" fill="#787878"/>
<circle cx="422.95" cy="595.17" r="1.6" fill="#787878"/>
<circle cx="420.7" cy="602.8" r="1.6" fill="#787878"/>
<circle cx="420.7" cy="610.43" r="1.6" fill="#787878"/>
<circle cx="420.7" cy="618.07" r="1.6" fill="#787878"/>
<circle cx="413.95" cy="625.7" r="1.6" fill="#787878"/>
<circle cx="418.45" cy="625.7" r="1.6" fill="#787878"/>
<circle cx="422.95" cy="625.7" r="1.6" fill="#787878"/>
<circle cx="427.45" cy="625.7" r="1.6" fill="#787878"/>
<circle cx="416.2" cy="633.33" r="1.6" fill="#787878"/>
<circle cx="420.7" cy="633.33" r="1.6" fill="#787878"/>
<circle cx="425.2" cy="633.33" r="1.6" fill="#787878"/>
<circle cx="413.95" cy="640.97" r="1.6" fill="#787878"/>
<circle cx="418.45" cy="640.97" r="1.6" fill="#787878"/>
<circle cx="422.95" cy="640.97" r="1.6" fill="#787878"/>
<circle cx="427.45" cy="640.97" r="1.6" fill="#787878"/>
<circle cx="420.7" cy="648.6" r="1.6" fill="#787878"/>
<circle cx="420.7" cy="656.23" r="1.6" fill="#787878"/>
<circle cx="416.2" cy="663.87" r="1.6" fill="#787878"/>
<circle cx="420.7" cy="663.87" r="1.6" fill="#787878"/>
<circle cx="425.2" cy="663.87" r="1.6" fill="#787878"/>
<circle cx="418.45" cy="671.5" r="1.6" fill="#787878"/>
<circle cx="422.95" cy="671.5" r="1.6" fill="#787878"/>
<circle cx="411.7" cy="679.13" r="1.6" fill="#787878"/>
<circle cx="416.2" cy="679.13" r="1.6" fill="#787878"/>
<circle cx="420.7" cy="679.13" r="1.6" fill="#787878"/>
<circle cx="425.2" cy="679.13" r="1.6" fill="#787878"/>
<circle cx="429.7" cy="679.13" r="1.6" fill="#787878"/>
<circle cx="409.45" cy="686.77" r="1.6" fill="#787878"/>
<circle cx="413.95" cy="686.77" r="1.6" fill="#787878"/>
<circle cx="418.45" cy="686.77" r="1.6" fill="#787878"/>
<circle cx="422.95" cy="686.77" r="1.6" fill="#787878"/>
<circle cx="427.45" cy="686.77" r="1.6" fill="#787878"/>
<circle cx="431.95" cy="686.77" r="1.6" fill="#787878"/>
<circle cx="409.45" cy="694.4" r="1.6" fill="#787878"/>
<circle cx="413.95" cy="694.4" r="1.6" fill="#787878"/>
<circle cx="418.45" cy="694.4" r="1.6" fill="#787878"/>
<circle cx="422.95" cy="694.4" r="1.6" fill="#787878"/>
<circle cx="427.45" cy="694.4" r="1.6" fill="#787878"/>
<circle cx="431.95" cy="694.4" r="1.6" fill="#787878"/>
<circle cx="409.45" cy="702.03" r="1.6" fill="#787878"/>
<circle cx="413.95" cy="702.03" r="1.6" fill="#787878"/>
<circle cx="418.45" cy="702.03" r="1.6" fill="#787878"/>
<circle cx="422.95" cy="702.03" r="1.6" fill="#787878"/>
<circle cx="427.45" cy="702.03" r="1.6" fill="#787878"/>
<circle cx="431.95" cy="702.03" r="1.6" fill="#787878"/>
<circle cx="416.2" cy="709.67" r="1.6" fill="#787878"/>
<circle cx="420.7" cy="709.67" r="1.6" fill="#787878"/>
<circle cx="425.2" cy="709.67" r="1.6" fill="#787878"/>
<circle cx="404.95" cy="717.3" r="1.6" fill="#787878"/>
<circle cx="409.45" cy="717.3" r="1.6" fill="#787878"/>
<circle cx="413.95" cy="717.3" r="1.6" fill="#787878"/>
<circle cx="418.45" cy="717.3" r="1.6" fill="#787878"/>
<circle cx="422.95" cy="717.3" r="1.6" fill="#787878"/>
<circle cx="427.45" cy="717.3" r="1.6" fill="#787878"/>
<circle cx="431.95" cy="717.3" r="1.6" fill="#787878"/>
<circle cx="436.45" cy="717.3" r="1.6" fill="#787878"/>
<circle cx="411.7" cy="724.93" r="1.6" fill="#787878"/>
<circle cx="416.2" cy="724.93" r="1.6" fill="#787878"/>
<circle cx="420.7" cy="724.93" r="1.6" fill="#787878"/>
<circle cx="425.2" cy="724.93" r="1.6" fill="#787878"/>
<circle cx="429.7" cy="724.93" r="1.6" fill="#787878"/>
<circle cx="416.2" cy="732.57" r="1.6" fill="#787878"/>
<circle cx="420.7" cy="732.57" r="1.6" fill="#787878"/>
<circle cx="425.2" cy="732.57" r="1.6" fill="#787878"/>
<circle cx="418.45" cy="740.2" r="1.6" fill="#787878"/>
<circle cx="422.95" cy="740.2" r="1.6" fill="#787878"/>
<circle cx="420.7" cy="747.83" r="1.6" fill="#787878"/>
<circle cx="420.7" cy="755.47" r="1.6" fill="#787878"/>
<line x1="404.9" y1="680.5" x2="436.5" y2="680.5" stroke="#000" stroke-width="1.2"/>
<line x1="412.7" y1="675.5" x2="428.7" y2="675.5" stroke="#000" stroke-width="1.2"/>
<line x1="412.7" y1="685.5" x2="428.7" y2="685.5" stroke="#000" stroke-width="1.2"/>
<line x1="420.7" y1="675.32" x2="420.7" y2="685.24" stroke="#000" stroke-width="1.2"/>
<circle cx="468" cy="648.6" r="1.55" fill="#db8282"/>
<circle cx="466.65" cy="656.23" r="1.55" fill="#db8282"/>
<circle cx="469.35" cy="656.23" r="1.55" fill="#db8282"/>
<circle cx="465.3" cy="671.5" r="1.55" fill="#db8282"/>
<circle cx="468" cy="671.5" r="1.55" fill="#db8282"/>
<circle cx="470.7" cy="671.5" r="1.55" fill="#db8282"/>
<circle cx="466.65" cy="679.13" r="1.55" fill="#db8282"/>
<circle cx="469.35" cy="679.13" r="1.55" fill="#db8282"/>
<circle cx="465.3" cy="686.77" r="1.55" fill="#db8282"/>
<circle cx="468" cy="686.77" r="1.55" fill="#db8282"/>
<circle cx="470.7" cy="686.77" r="1.55" fill="#db8282"/>
<circle cx="458.55" cy="694.4" r="1.55" fill="#db8282"/>
<circle cx="461.25" cy="694.4" r="1.55" fill="#db8282"/>
<circle cx="463.95" cy="694.4" r="1.55" fill="#db8282"/>
<circle cx="466.65" cy="694.4" r="1.55" fill="#db8282"/>
<circle cx="469.35" cy="694.4" r="1.55" fill="#db8282"/>
<circle cx="472.05" cy="694.4" r="1.55" fill="#db8282"/>
<circle cx="474.75" cy="694.4" r="1.55" fill="#db8282"/>
<circle cx="477.45" cy="694.4" r="1.55" fill="#db8282"/>
<circle cx="462.6" cy="702.03" r="1.55" fill="#db8282"/>
<circle cx="465.3" cy="702.03" r="1.55" fill="#db8282"/>
<circle cx="468" cy="702.03" r="1.55" fill="#db8282"/>
<circle cx="470.7" cy="702.03" r="1.55" fill="#db8282"/>
<circle cx="473.4" cy="702.03" r="1.55" fill="#db8282"/>
<circle cx="461.25" cy="709.67" r="1.55" fill="#db8282"/>
<circle cx="463.95" cy="709.67" r="1.55" fill="#db8282"/>
<circle cx="466.65" cy="709.67" r="1.55" fill="#db8282"/>
<circle cx="469.35" cy="709.67" r="1.55" fill="#db8282"/>
<circle cx="472.05" cy="709.67" r="1.55" fill="#db8282"/>
<circle cx="474.75" cy="709.67" r="1.55" fill="#db8282"/>
<circle cx="458.55" cy="717.3" r="1.55" fill="#db8282"/>
<circle cx="461.25" cy="717.3" r="1.55" fill="#db8282"/>
<circle cx="463.95" cy="717.3" r="1.55" fill="#db8282"/>
<circle cx="466.65" cy="717.3" r="1.55" fill="#db8282"/>
<circle cx="469.35" cy="717.3" r="1.55" fill="#db8282"/>
<circle cx="472.05" cy="717.3" r="1.55" fill="#db8282"/>
<circle cx="474.75" cy="717.3" r="1.55" fill="#db8282"/>
<circle cx="477.45" cy="717.3" r="1.55" fill="#db8282"/>
<circle cx="458.55" cy="724.93" r="1.55" fill="#db8282"/>
<circle cx="461.25" cy="724.93" r="1.55" fill="#db8282"/>
<circle cx="463.95" cy="724.93" r="1.55" fill="#db8282"/>
<circle cx="466.65" cy="724.93" r="1.55" fill="#db8282"/>
<circle cx="469.35" cy="724.93" r="1.55" fill="#db8282"/>
<circle cx="472.05" cy="724.93" r="1.55" fill="#db8282"/>
<circle cx="474.75" cy="724.93" r="1.55" fill="#db8282"/>
<circle cx="477.45" cy="724.93" r="1.55" fill="#db8282"/>
<circle cx="454.5" cy="732.57" r="1.55" fill="#db8282"/>
<circle cx="457.2" cy="732.57" r="1.55" fill="#db8282"/>
<circle cx="459.9" cy="732.57" r="1.55" fill="#db8282"/>
<circle cx="462.6" cy="732.57" r="1.55" fill="#db8282"/>
<circle cx="465.3" cy="732.57" r="1.55" fill="#db8282"/>
<circle cx="468" cy="732.57" r="1.55" fill="#db8282"/>
<circle cx="470.7" cy="732.57" r="1.55" fill="#db8282"/>
<circle cx="473.4" cy="732.57" r="1.55" fill="#db8282"/>
<circle cx="476.1" cy="732.57" r="1.55" fill="#db8282"/>
<circle cx="478.8" cy="732.57" r="1.55" fill="#db8282"/>
<circle cx="481.5" cy="732.57" r="1.55" fill="#db8282"/>
<circle cx="458.55" cy="740.2" r="1.55" fill="#db8282"/>
<circle cx="461.25" cy="740.2" r="1.55" fill="#db8282"/>
<circle cx="463.95" cy="740.2" r="1.55" fill="#db8282"/>
<circle cx="466.65" cy="740.2" r="1.55" fill="#db8282"/>
<circle cx="469.35" cy="740.2" r="1.55" fill="#db8282"/>
<circle cx="472.05" cy="740.2" r="1.55" fill="#db8282"/>
<circle cx="474.75" cy="740.2" r="1.55" fill="#db8282"/>
<circle cx="477.45" cy="740.2" r="1.55" fill="#db8282"/>
<circle cx="463.95" cy="747.83" r="1.55" fill="#db8282"/>
<circle cx="466.65" cy="747.83" r="1.55" fill="#db8282"/>
<circle cx="469.35" cy="747.83" r="1.55" fill="#db8282"/>
<circle cx="472.05" cy="747.83" r="1.55" fill="#db8282"/>
<circle cx="468" cy="755.47" r="1.55" fill="#db8282"/>
<line x1="451.9" y1="714.5" x2="484.1" y2="714.5" stroke="#000" stroke-width="1.2"/>
<line x1="460" y1="710.5" x2="476" y2="710.5" stroke="#000" stroke-width="1.2"/>
<line x1="460" y1="717.5" x2="476" y2="717.5" stroke="#000" stroke-width="1.2"/>
<line x1="468" y1="710.81" x2="468" y2="717.3" stroke="#000" stroke-width="1.2"/>
<rect x="514.2" y="753.92" width="3.6" height="3.1" rx="1.3" fill="#db8282"/>
<rect x="514.2" y="761.55" width="3.6" height="3.1" rx="1.3" fill="#db8282"/>
<rect x="510.25" y="769.18" width="11.5" height="3.1" rx="1.3" fill="#db8282"/>
<rect x="500.5" y="776.82" width="31" height="3.1" rx="1.3" fill="#db8282"/>
<rect x="509.5" y="784.45" width="13" height="3.1" rx="1.3" fill="#db8282"/>
<line x1="500.25" y1="778.37" x2="531.75" y2="778.37" stroke="#000" stroke-width="1.7"/>
<line x1="508" y1="777.5" x2="524" y2="777.5" stroke="#000" stroke-width="1.05"/>
<line x1="508" y1="778.5" x2="524" y2="778.5" stroke="#000" stroke-width="1.05"/>
<line x1="516" y1="777.76" x2="516" y2="778.98" stroke="#000" stroke-width="1.05"/>
<rect x="560.15" y="769.18" width="7.3" height="3.1" rx="1.3" fill="#9b12b3"/>
<rect x="557.8" y="776.82" width="12" height="3.1" rx="1.3" fill="#9b12b3"/>
<rect x="548.95" y="784.45" width="29.7" height="3.1" rx="1.3" fill="#9b12b3"/>
<line x1="548.15" y1="782.5" x2="579.45" y2="782.5" stroke="#000" stroke-width="1.2"/>
<line x1="555.8" y1="781.5" x2="571.8" y2="781.5" stroke="#000" stroke-width="1.2"/>
<line x1="555.8" y1="782.5" x2="571.8" y2="782.5" stroke="#000" stroke-width="1.2"/>
<line x1="563.8" y1="781.8" x2="563.8" y2="782.87" stroke="#000" stroke-width="1.2"/>
<rect x="607" y="776.82" width="9.2" height="3.1" rx="1.3" fill="#a3a3a3"/>
<rect x="596.75" y="784.45" width="29.7" height="3.1" rx="1.3" fill="#a3a3a3"/>
<line x1="596.75" y1="785.5" x2="626.45" y2="785.5" stroke="#000" stroke-width="1.2"/>
<path d="M455.2 617.55L455.2 624.25M452.3 619.23L458.1 622.57M452.3 622.57L458.1 619.23M465.2 617.55L465.2 624.25M462.3 619.23L468.1 622.57M462.3 622.57L468.1 619.23M475.2 617.55L475.2 624.25M472.3 619.23L478.1 622.57M472.3 622.57L478.1 619.23M485.2 617.55L485.2 624.25M482.3 619.23L488.1 622.57M482.3 622.57L488.1 619.23" stroke="#000" stroke-width="1.6" stroke-linecap="round" fill="none"/>
<path d="M502.1 732.05L502.1 738.75M499.2 733.73L505 737.07M499.2 737.07L505 733.73M512.1 732.05L512.1 738.75M509.2 733.73L515 737.07M509.2 737.07L515 733.73M522.1 732.05L522.1 738.75M519.2 733.73L525 737.07M519.2 737.07L525 733.73M532.1 732.05L532.1 738.75M529.2 733.73L535 737.07M529.2 737.07L535 733.73" stroke="#000" stroke-width="1.6" stroke-linecap="round" fill="none"/>
<path d="M550.9 748.85L550.9 755.55M548 750.53L553.8 753.88M548 753.88L553.8 750.53M560.9 748.85L560.9 755.55M558 750.53L563.8 753.88M558 753.88L563.8 750.53M570.9 748.85L570.9 755.55M568 750.53L573.8 753.88M568 753.88L573.8 750.53M580.9 748.85L580.9 755.55M578 750.53L583.8 753.88M578 753.88L583.8 750.53" stroke="#000" stroke-width="1.6" stroke-linecap="round" fill="none"/>
<path d="M596.6 755.85L596.6 762.55M593.7 757.53L599.5 760.88M593.7 760.88L599.5 757.53M606.6 755.85L606.6 762.55M603.7 757.53L609.5 760.88M603.7 760.88L609.5 757.53M616.6 755.85L616.6 762.55M613.7 757.53L619.5 760.88M613.7 760.88L619.5 757.53M626.6 755.85L626.6 762.55M623.7 757.53L629.5 760.88M623.7 760.88L629.5 757.53" stroke="#000" stroke-width="1.6" stroke-linecap="round" fill="none"/>
<rect x="512.9" y="568" width="123.4" height="123.4" fill="#fff"/>
<path d="M512.9 691.4V568H636.3V691.4Z" fill="none" stroke="#000" stroke-width="2.0"/>
<line x1="507.9" y1="691.4" x2="512.9" y2="691.4" stroke="#000" stroke-width="2"/>
<text x="506.3" y="697.16" font-size="16" font-weight="bold" font-style="normal" text-anchor="end" fill="#000" textLength="8.9" lengthAdjust="spacingAndGlyphs">0</text>
<line x1="507.9" y1="666.72" x2="512.9" y2="666.72" stroke="#000" stroke-width="2"/>
<text x="506.3" y="672.48" font-size="16" font-weight="bold" font-style="normal" text-anchor="end" fill="#000" textLength="8.9" lengthAdjust="spacingAndGlyphs">1</text>
<line x1="507.9" y1="642.04" x2="512.9" y2="642.04" stroke="#000" stroke-width="2"/>
<text x="506.3" y="647.8" font-size="16" font-weight="bold" font-style="normal" text-anchor="end" fill="#000" textLength="8.9" lengthAdjust="spacingAndGlyphs">2</text>
<line x1="507.9" y1="617.36" x2="512.9" y2="617.36" stroke="#000" stroke-width="2"/>
<text x="506.3" y="623.12" font-size="16" font-weight="bold" font-style="normal" text-anchor="end" fill="#000" textLength="8.9" lengthAdjust="spacingAndGlyphs">3</text>
<line x1="507.9" y1="592.68" x2="512.9" y2="592.68" stroke="#000" stroke-width="2"/>
<text x="506.3" y="598.44" font-size="16" font-weight="bold" font-style="normal" text-anchor="end" fill="#000" textLength="8.9" lengthAdjust="spacingAndGlyphs">4</text>
<line x1="507.9" y1="568" x2="512.9" y2="568" stroke="#000" stroke-width="2"/>
<text x="506.3" y="573.76" font-size="16" font-weight="bold" font-style="normal" text-anchor="end" fill="#000" textLength="8.9" lengthAdjust="spacingAndGlyphs">5</text>
<line x1="543.2" y1="691.4" x2="543.2" y2="696.4" stroke="#000" stroke-width="2"/>
<line x1="605.3" y1="691.4" x2="605.3" y2="696.4" stroke="#000" stroke-width="2"/>
<rect x="541.05" y="590.78" width="4.3" height="3.8" rx="1.6" fill="#db8282"/>
<rect x="541.05" y="615.46" width="4.3" height="3.8" rx="1.6" fill="#db8282"/>
<rect x="536.35" y="640.14" width="13.7" height="3.8" rx="1.6" fill="#db8282"/>
<rect x="523.2" y="664.82" width="40" height="3.8" rx="1.6" fill="#db8282"/>
<rect x="534.4" y="689.5" width="17.6" height="3.8" rx="1.6" fill="#db8282"/>
<line x1="522.95" y1="665.5" x2="563.45" y2="665.5" stroke="#000" stroke-width="1.2"/>
<line x1="533.2" y1="664.5" x2="553.2" y2="664.5" stroke="#000" stroke-width="1.2"/>
<line x1="533.2" y1="668.5" x2="553.2" y2="668.5" stroke="#000" stroke-width="1.2"/>
<line x1="543.2" y1="664.01" x2="543.2" y2="668.2" stroke="#000" stroke-width="1.2"/>
<rect x="600.9" y="640.14" width="8.8" height="3.8" rx="1.6" fill="#9b12b3"/>
<rect x="597.6" y="664.82" width="15.4" height="3.8" rx="1.6" fill="#9b12b3"/>
<rect x="586.05" y="689.5" width="38.5" height="3.8" rx="1.6" fill="#9b12b3"/>
<line x1="584.7" y1="680.5" x2="625.9" y2="680.5" stroke="#000" stroke-width="1.2"/>
<line x1="595.1" y1="678.5" x2="615.5" y2="678.5" stroke="#000" stroke-width="1.2"/>
<line x1="595.1" y1="682.5" x2="615.5" y2="682.5" stroke="#000" stroke-width="1.2"/>
<line x1="605.3" y1="678.32" x2="605.3" y2="682.27" stroke="#000" stroke-width="1.2"/>
<text x="573.9" y="582.6" font-size="14.7" font-weight="normal" font-style="normal" text-anchor="middle" fill="#000" textLength="18.4" lengthAdjust="spacingAndGlyphs">NS</text>
<line x1="543.4" y1="591.5" x2="605" y2="591.5" stroke="#000" stroke-width="1.2"/>
<path d="M397.3 1030.8V800H636.3V1030.8Z" fill="none" stroke="#000" stroke-width="2.0"/>
<line x1="392.3" y1="1030.8" x2="397.3" y2="1030.8" stroke="#000" stroke-width="2"/>
<text x="389.9" y="1036.56" font-size="16" font-weight="bold" font-style="normal" text-anchor="end" fill="#000" textLength="8.32" lengthAdjust="spacingAndGlyphs">0</text>
<line x1="392.3" y1="953.87" x2="397.3" y2="953.87" stroke="#000" stroke-width="2"/>
<text x="389.9" y="959.63" font-size="16" font-weight="bold" font-style="normal" text-anchor="end" fill="#000" textLength="16.64" lengthAdjust="spacingAndGlyphs">10</text>
<line x1="392.3" y1="876.93" x2="397.3" y2="876.93" stroke="#000" stroke-width="2"/>
<text x="389.9" y="882.69" font-size="16" font-weight="bold" font-style="normal" text-anchor="end" fill="#000" textLength="16.64" lengthAdjust="spacingAndGlyphs">20</text>
<line x1="392.3" y1="800" x2="397.3" y2="800" stroke="#000" stroke-width="2"/>
<text x="389.9" y="805.76" font-size="16" font-weight="bold" font-style="normal" text-anchor="end" fill="#000" textLength="16.64" lengthAdjust="spacingAndGlyphs">30</text>
<line x1="420.8" y1="1030.8" x2="420.8" y2="1035.8" stroke="#000" stroke-width="2"/>
<line x1="468.4" y1="1030.8" x2="468.4" y2="1035.8" stroke="#000" stroke-width="2"/>
<line x1="516.2" y1="1030.8" x2="516.2" y2="1035.8" stroke="#000" stroke-width="2"/>
<line x1="563.7" y1="1030.8" x2="563.7" y2="1035.8" stroke="#000" stroke-width="2"/>
<line x1="611.5" y1="1030.8" x2="611.5" y2="1035.8" stroke="#000" stroke-width="2"/>
<text transform="translate(363.5,913.5) rotate(-90)" font-size="15.6" text-anchor="middle" textLength="163" lengthAdjust="spacingAndGlyphs">Capsule thickness (µm)</text>
<text transform="translate(642.8,913.3) rotate(90)" font-size="14.6" text-anchor="middle" textLength="102.4" lengthAdjust="spacingAndGlyphs">FBS medium</text>
<circle cx="420.8" cy="892.32" r="1.55" fill="#787878"/>
<circle cx="420.8" cy="900.01" r="1.55" fill="#787878"/>
<circle cx="416.15" cy="915.4" r="1.55" fill="#787878"/>
<circle cx="419.25" cy="915.4" r="1.55" fill="#787878"/>
<circle cx="422.35" cy="915.4" r="1.55" fill="#787878"/>
<circle cx="425.45" cy="915.4" r="1.55" fill="#787878"/>
<circle cx="414.6" cy="930.79" r="1.55" fill="#787878"/>
<circle cx="417.7" cy="930.79" r="1.55" fill="#787878"/>
<circle cx="420.8" cy="930.79" r="1.55" fill="#787878"/>
<circle cx="423.9" cy="930.79" r="1.55" fill="#787878"/>
<circle cx="427" cy="930.79" r="1.55" fill="#787878"/>
<circle cx="419.25" cy="938.48" r="1.55" fill="#787878"/>
<circle cx="422.35" cy="938.48" r="1.55" fill="#787878"/>
<circle cx="419.25" cy="946.17" r="1.55" fill="#787878"/>
<circle cx="422.35" cy="946.17" r="1.55" fill="#787878"/>
<circle cx="409.95" cy="953.87" r="1.55" fill="#787878"/>
<circle cx="413.05" cy="953.87" r="1.55" fill="#787878"/>
<circle cx="416.15" cy="953.87" r="1.55" fill="#787878"/>
<circle cx="419.25" cy="953.87" r="1.55" fill="#787878"/>
<circle cx="422.35" cy="953.87" r="1.55" fill="#787878"/>
<circle cx="425.45" cy="953.87" r="1.55" fill="#787878"/>
<circle cx="428.55" cy="953.87" r="1.55" fill="#787878"/>
<circle cx="431.65" cy="953.87" r="1.55" fill="#787878"/>
<circle cx="408.4" cy="961.56" r="1.55" fill="#787878"/>
<circle cx="411.5" cy="961.56" r="1.55" fill="#787878"/>
<circle cx="414.6" cy="961.56" r="1.55" fill="#787878"/>
<circle cx="417.7" cy="961.56" r="1.55" fill="#787878"/>
<circle cx="420.8" cy="961.56" r="1.55" fill="#787878"/>
<circle cx="423.9" cy="961.56" r="1.55" fill="#787878"/>
<circle cx="427" cy="961.56" r="1.55" fill="#787878"/>
<circle cx="430.1" cy="961.56" r="1.55" fill="#787878"/>
<circle cx="433.2" cy="961.56" r="1.55" fill="#787878"/>
<circle cx="409.95" cy="969.25" r="1.55" fill="#787878"/>
<circle cx="413.05" cy="969.25" r="1.55" fill="#787878"/>
<circle cx="416.15" cy="969.25" r="1.55" fill="#787878"/>
<circle cx="419.25" cy="969.25" r="1.55" fill="#787878"/>
<circle cx="422.35" cy="969.25" r="1.55" fill="#787878"/>
<circle cx="425.45" cy="969.25" r="1.55" fill="#787878"/>
<circle cx="428.55" cy="969.25" r="1.55" fill="#787878"/>
<circle cx="431.65" cy="969.25" r="1.55" fill="#787878"/>
<circle cx="406.85" cy="976.95" r="1.55" fill="#787878"/>
<circle cx="409.95" cy="976.95" r="1.55" fill="#787878"/>
<circle cx="413.05" cy="976.95" r="1.55" fill="#787878"/>
<circle cx="416.15" cy="976.95" r="1.55" fill="#787878"/>
<circle cx="419.25" cy="976.95" r="1.55" fill="#787878"/>
<circle cx="422.35" cy="976.95" r="1.55" fill="#787878"/>
<circle cx="425.45" cy="976.95" r="1.55" fill="#787878"/>
<circle cx="428.55" cy="976.95" r="1.55" fill="#787878"/>
<circle cx="431.65" cy="976.95" r="1.55" fill="#787878"/>
<circle cx="434.75" cy="976.95" r="1.55" fill="#787878"/>
<circle cx="414.6" cy="984.64" r="1.55" fill="#787878"/>
<circle cx="417.7" cy="984.64" r="1.55" fill="#787878"/>
<circle cx="420.8" cy="984.64" r="1.55" fill="#787878"/>
<circle cx="423.9" cy="984.64" r="1.55" fill="#787878"/>
<circle cx="427" cy="984.64" r="1.55" fill="#787878"/>
<line x1="404.9" y1="957.5" x2="436.7" y2="957.5" stroke="#000" stroke-width="1.2"/>
<line x1="412.95" y1="954.5" x2="428.65" y2="954.5" stroke="#000" stroke-width="1.2"/>
<line x1="412.95" y1="959.5" x2="428.65" y2="959.5" stroke="#000" stroke-width="1.2"/>
<line x1="420.8" y1="954.87" x2="420.8" y2="959.79" stroke="#000" stroke-width="1.2"/>
<circle cx="468.4" cy="876.93" r="1.55" fill="#db8282"/>
<circle cx="468.4" cy="884.63" r="1.55" fill="#db8282"/>
<circle cx="466.85" cy="923.09" r="1.55" fill="#db8282"/>
<circle cx="469.95" cy="923.09" r="1.55" fill="#db8282"/>
<circle cx="460.65" cy="930.79" r="1.55" fill="#db8282"/>
<circle cx="463.75" cy="930.79" r="1.55" fill="#db8282"/>
<circle cx="466.85" cy="930.79" r="1.55" fill="#db8282"/>
<circle cx="469.95" cy="930.79" r="1.55" fill="#db8282"/>
<circle cx="473.05" cy="930.79" r="1.55" fill="#db8282"/>
<circle cx="476.15" cy="930.79" r="1.55" fill="#db8282"/>
<circle cx="462.2" cy="938.48" r="1.55" fill="#db8282"/>
<circle cx="465.3" cy="938.48" r="1.55" fill="#db8282"/>
<circle cx="468.4" cy="938.48" r="1.55" fill="#db8282"/>
<circle cx="471.5" cy="938.48" r="1.55" fill="#db8282"/>
<circle cx="474.6" cy="938.48" r="1.55" fill="#db8282"/>
<circle cx="462.2" cy="946.17" r="1.55" fill="#db8282"/>
<circle cx="465.3" cy="946.17" r="1.55" fill="#db8282"/>
<circle cx="468.4" cy="946.17" r="1.55" fill="#db8282"/>
<circle cx="471.5" cy="946.17" r="1.55" fill="#db8282"/>
<circle cx="474.6" cy="946.17" r="1.55" fill="#db8282"/>
<circle cx="462.2" cy="953.87" r="1.55" fill="#db8282"/>
<circle cx="465.3" cy="953.87" r="1.55" fill="#db8282"/>
<circle cx="468.4" cy="953.87" r="1.55" fill="#db8282"/>
<circle cx="471.5" cy="953.87" r="1.55" fill="#db8282"/>
<circle cx="474.6" cy="953.87" r="1.55" fill="#db8282"/>
<circle cx="457.55" cy="961.56" r="1.55" fill="#db8282"/>
<circle cx="460.65" cy="961.56" r="1.55" fill="#db8282"/>
<circle cx="463.75" cy="961.56" r="1.55" fill="#db8282"/>
<circle cx="466.85" cy="961.56" r="1.55" fill="#db8282"/>
<circle cx="469.95" cy="961.56" r="1.55" fill="#db8282"/>
<circle cx="473.05" cy="961.56" r="1.55" fill="#db8282"/>
<circle cx="476.15" cy="961.56" r="1.55" fill="#db8282"/>
<circle cx="479.25" cy="961.56" r="1.55" fill="#db8282"/>
<circle cx="459.1" cy="969.25" r="1.55" fill="#db8282"/>
<circle cx="462.2" cy="969.25" r="1.55" fill="#db8282"/>
<circle cx="465.3" cy="969.25" r="1.55" fill="#db8282"/>
<circle cx="468.4" cy="969.25" r="1.55" fill="#db8282"/>
<circle cx="471.5" cy="969.25" r="1.55" fill="#db8282"/>
<circle cx="474.6" cy="969.25" r="1.55" fill="#db8282"/>
<circle cx="477.7" cy="969.25" r="1.55" fill="#db8282"/>
<circle cx="454.45" cy="976.95" r="1.55" fill="#db8282"/>
<circle cx="457.55" cy="976.95" r="1.55" fill="#db8282"/>
<circle cx="460.65" cy="976.95" r="1.55" fill="#db8282"/>
<circle cx="463.75" cy="976.95" r="1.55" fill="#db8282"/>
<circle cx="466.85" cy="976.95" r="1.55" fill="#db8282"/>
<circle cx="469.95" cy="976.95" r="1.55" fill="#db8282"/>
<circle cx="473.05" cy="976.95" r="1.55" fill="#db8282"/>
<circle cx="476.15" cy="976.95" r="1.55" fill="#db8282"/>
<circle cx="479.25" cy="976.95" r="1.55" fill="#db8282"/>
<circle cx="482.35" cy="976.95" r="1.55" fill="#db8282"/>
<circle cx="459.1" cy="984.64" r="1.55" fill="#db8282"/>
<circle cx="462.2" cy="984.64" r="1.55" fill="#db8282"/>
<circle cx="465.3" cy="984.64" r="1.55" fill="#db8282"/>
<circle cx="468.4" cy="984.64" r="1.55" fill="#db8282"/>
<circle cx="471.5" cy="984.64" r="1.55" fill="#db8282"/>
<circle cx="474.6" cy="984.64" r="1.55" fill="#db8282"/>
<circle cx="477.7" cy="984.64" r="1.55" fill="#db8282"/>
<circle cx="466.85" cy="992.33" r="1.55" fill="#db8282"/>
<circle cx="469.95" cy="992.33" r="1.55" fill="#db8282"/>
<circle cx="465.3" cy="1000.03" r="1.55" fill="#db8282"/>
<circle cx="468.4" cy="1000.03" r="1.55" fill="#db8282"/>
<circle cx="471.5" cy="1000.03" r="1.55" fill="#db8282"/>
<circle cx="468.4" cy="1007.72" r="1.55" fill="#db8282"/>
<line x1="452.5" y1="960.5" x2="484.3" y2="960.5" stroke="#000" stroke-width="1.2"/>
<line x1="460.9" y1="958.5" x2="475.9" y2="958.5" stroke="#000" stroke-width="1.2"/>
<line x1="460.9" y1="962.5" x2="475.9" y2="962.5" stroke="#000" stroke-width="1.2"/>
<line x1="468.4" y1="958.1" x2="468.4" y2="962.33" stroke="#000" stroke-width="1.2"/>
<rect x="514.4" y="998.48" width="3.6" height="3.1" rx="1.3" fill="#db8282"/>
<rect x="511.2" y="1006.17" width="10" height="3.1" rx="1.3" fill="#db8282"/>
<rect x="501.2" y="1013.86" width="30" height="3.1" rx="1.3" fill="#db8282"/>
<rect x="506.2" y="1021.56" width="20" height="3.1" rx="1.3" fill="#db8282"/>
<rect x="512.2" y="1029.25" width="8" height="3.1" rx="1.3" fill="#db8282"/>
<line x1="500.45" y1="1017.26" x2="531.95" y2="1017.26" stroke="#000" stroke-width="1.7"/>
<line x1="508.2" y1="1016.5" x2="524.2" y2="1016.5" stroke="#000" stroke-width="1.05"/>
<line x1="508.2" y1="1018.5" x2="524.2" y2="1018.5" stroke="#000" stroke-width="1.05"/>
<line x1="516.2" y1="1016.49" x2="516.2" y2="1018.03" stroke="#000" stroke-width="1.05"/>
<rect x="561.9" y="1013.86" width="3.6" height="3.1" rx="1.3" fill="#9b12b3"/>
<rect x="552.85" y="1021.56" width="21.7" height="3.1" rx="1.3" fill="#9b12b3"/>
<rect x="548" y="1029.25" width="31.4" height="3.1" rx="1.3" fill="#9b12b3"/>
<line x1="548" y1="1028.5" x2="579.4" y2="1028.5" stroke="#000" stroke-width="1.2"/>
<line x1="555.7" y1="1027.5" x2="571.7" y2="1027.5" stroke="#000" stroke-width="1.2"/>
<line x1="555.7" y1="1028.5" x2="571.7" y2="1028.5" stroke="#000" stroke-width="1.2"/>
<line x1="563.7" y1="1027.57" x2="563.7" y2="1028.49" stroke="#000" stroke-width="1.2"/>
<rect x="607.3" y="1021.56" width="8.4" height="3.1" rx="1.3" fill="#a3a3a3"/>
<rect x="596.4" y="1029.25" width="30.2" height="3.1" rx="1.3" fill="#a3a3a3"/>
<line x1="596.4" y1="1030.5" x2="626.6" y2="1030.5" stroke="#000" stroke-width="1.2"/>
<text x="468.6" y="859.1" font-size="17.4" font-weight="normal" font-style="normal" text-anchor="middle" fill="#000" textLength="21.8" lengthAdjust="spacingAndGlyphs">NS</text>
<path d="M501.5 979.95L501.5 986.65M498.6 981.62L504.4 984.97M498.6 984.97L504.4 981.62M511.5 979.95L511.5 986.65M508.6 981.62L514.4 984.97M508.6 984.97L514.4 981.62M521.5 979.95L521.5 986.65M518.6 981.62L524.4 984.97M518.6 984.97L524.4 981.62M531.5 979.95L531.5 986.65M528.6 981.62L534.4 984.97M528.6 984.97L534.4 981.62" stroke="#000" stroke-width="1.6" stroke-linecap="round" fill="none"/>
<path d="M549.8 994.35L549.8 1001.05M546.9 996.03L552.7 999.38M546.9 999.38L552.7 996.03M559.8 994.35L559.8 1001.05M556.9 996.03L562.7 999.38M556.9 999.38L562.7 996.03M569.8 994.35L569.8 1001.05M566.9 996.03L572.7 999.38M566.9 999.38L572.7 996.03M579.8 994.35L579.8 1001.05M576.9 996.03L582.7 999.38M576.9 999.38L582.7 996.03" stroke="#000" stroke-width="1.6" stroke-linecap="round" fill="none"/>
<path d="M596.6 1001.55L596.6 1008.25M593.7 1003.23L599.5 1006.57M593.7 1006.57L599.5 1003.23M606.6 1001.55L606.6 1008.25M603.7 1003.23L609.5 1006.57M603.7 1006.57L609.5 1003.23M616.6 1001.55L616.6 1008.25M613.7 1003.23L619.5 1006.57M613.7 1006.57L619.5 1003.23M626.6 1001.55L626.6 1008.25M623.7 1003.23L629.5 1006.57M623.7 1006.57L629.5 1003.23" stroke="#000" stroke-width="1.6" stroke-linecap="round" fill="none"/>
<rect x="513.2" y="811.7" width="123.1" height="122.9" fill="#fff"/>
<path d="M513.2 934.6V811.7H636.3V934.6Z" fill="none" stroke="#000" stroke-width="2.0"/>
<line x1="508.2" y1="934.6" x2="513.2" y2="934.6" stroke="#000" stroke-width="2"/>
<text x="506.6" y="940.36" font-size="16" font-weight="bold" font-style="normal" text-anchor="end" fill="#000" textLength="8.9" lengthAdjust="spacingAndGlyphs">0</text>
<line x1="508.2" y1="910.02" x2="513.2" y2="910.02" stroke="#000" stroke-width="2"/>
<text x="506.6" y="915.78" font-size="16" font-weight="bold" font-style="normal" text-anchor="end" fill="#000" textLength="8.9" lengthAdjust="spacingAndGlyphs">1</text>
<line x1="508.2" y1="885.44" x2="513.2" y2="885.44" stroke="#000" stroke-width="2"/>
<text x="506.6" y="891.2" font-size="16" font-weight="bold" font-style="normal" text-anchor="end" fill="#000" textLength="8.9" lengthAdjust="spacingAndGlyphs">2</text>
<line x1="508.2" y1="860.86" x2="513.2" y2="860.86" stroke="#000" stroke-width="2"/>
<text x="506.6" y="866.62" font-size="16" font-weight="bold" font-style="normal" text-anchor="end" fill="#000" textLength="8.9" lengthAdjust="spacingAndGlyphs">3</text>
<line x1="508.2" y1="836.28" x2="513.2" y2="836.28" stroke="#000" stroke-width="2"/>
<text x="506.6" y="842.04" font-size="16" font-weight="bold" font-style="normal" text-anchor="end" fill="#000" textLength="8.9" lengthAdjust="spacingAndGlyphs">4</text>
<line x1="508.2" y1="811.7" x2="513.2" y2="811.7" stroke="#000" stroke-width="2"/>
<text x="506.6" y="817.46" font-size="16" font-weight="bold" font-style="normal" text-anchor="end" fill="#000" textLength="8.9" lengthAdjust="spacingAndGlyphs">5</text>
<line x1="543.4" y1="934.6" x2="543.4" y2="939.6" stroke="#000" stroke-width="2"/>
<line x1="605.1" y1="934.6" x2="605.1" y2="939.6" stroke="#000" stroke-width="2"/>
<rect x="541.25" y="834.38" width="4.3" height="3.8" rx="1.6" fill="#db8282"/>
<rect x="536.4" y="858.96" width="14" height="3.8" rx="1.6" fill="#db8282"/>
<rect x="523.1" y="883.54" width="40.6" height="3.8" rx="1.6" fill="#db8282"/>
<rect x="530.4" y="908.12" width="26" height="3.8" rx="1.6" fill="#db8282"/>
<rect x="537.65" y="932.7" width="11.5" height="3.8" rx="1.6" fill="#db8282"/>
<line x1="522.9" y1="893.5" x2="563.9" y2="893.5" stroke="#000" stroke-width="1.2"/>
<line x1="533.2" y1="890.5" x2="553.6" y2="890.5" stroke="#000" stroke-width="1.2"/>
<line x1="533.2" y1="895.5" x2="553.6" y2="895.5" stroke="#000" stroke-width="1.2"/>
<line x1="543.4" y1="890.85" x2="543.4" y2="895.76" stroke="#000" stroke-width="1.2"/>
<rect x="602.95" y="883.54" width="4.3" height="3.8" rx="1.6" fill="#9b12b3"/>
<rect x="591.1" y="908.12" width="28" height="3.8" rx="1.6" fill="#9b12b3"/>
<rect x="585.35" y="932.7" width="39.5" height="3.8" rx="1.6" fill="#9b12b3"/>
<line x1="584.8" y1="924.5" x2="625.4" y2="924.5" stroke="#000" stroke-width="1.2"/>
<line x1="595.1" y1="922.5" x2="615.1" y2="922.5" stroke="#000" stroke-width="1.2"/>
<line x1="595.1" y1="926.5" x2="615.1" y2="926.5" stroke="#000" stroke-width="1.2"/>
<line x1="605.1" y1="922.8" x2="605.1" y2="926.73" stroke="#000" stroke-width="1.2"/>
<path d="M568.8 820.65L568.8 827.35M565.9 822.33L571.7 825.67M565.9 825.67L571.7 822.33M578.8 820.65L578.8 827.35M575.9 822.33L581.7 825.67M575.9 825.67L581.7 822.33" stroke="#000" stroke-width="1.6" stroke-linecap="round" fill="none"/>
<line x1="542.2" y1="831.5" x2="605.7" y2="831.5" stroke="#000" stroke-width="1.2"/>
<text transform="translate(426,1049) rotate(-45)" font-size="15.5" text-anchor="end">WT</text>
<text transform="translate(473,1052) rotate(-45)" font-size="15.5" text-anchor="end"><tspan font-style="italic">yap1</tspan>Δ</text>
<text transform="translate(521,1050) rotate(-45)" font-size="15.5" text-anchor="end"><tspan font-style="italic">gat201</tspan>Δ</text>
<text transform="translate(560,1054) rotate(-45)" font-size="15.5" text-anchor="end"><tspan font-style="italic">yap1</tspan>Δ</text>
<text transform="translate(579,1067) rotate(-45)" font-size="15.5" text-anchor="end"><tspan font-style="italic">gat201</tspan>Δ</text>
<text transform="translate(617,1050.5) rotate(-45)" font-size="15.5" text-anchor="end"><tspan font-style="italic">cap10</tspan>Δ</text>
</svg></body></html>
